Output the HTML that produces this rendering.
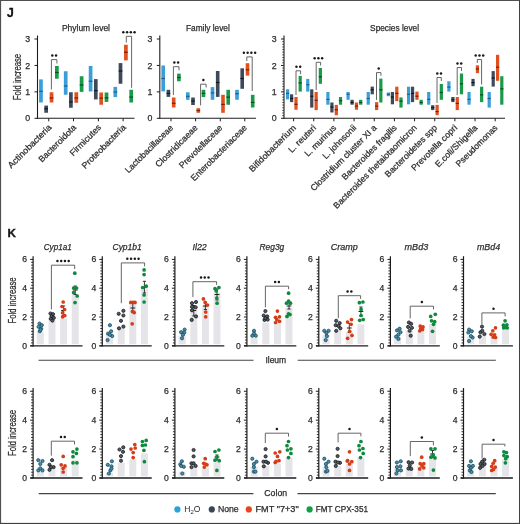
<!DOCTYPE html><html><head><meta charset="utf-8"><style>html,body{margin:0;padding:0;background:#fff;}svg{display:block;font-family:"Liberation Sans", sans-serif;will-change:transform;}</style></head><body>
<svg width="520" height="524" viewBox="0 0 520 524">
<rect x="0" y="0" width="520" height="524" fill="#fff"/>
<rect x="0" y="0" width="520" height="1" fill="#505050"/>
<rect x="0" y="0" width="1.1" height="524" fill="#505050"/>
<rect x="519" y="0" width="1" height="524" fill="#404040"/>
<rect x="0" y="522.9" width="520" height="1.1" fill="#404040"/>
<text x="7" y="17.4" font-size="12.2" text-anchor="start" font-weight="bold" font-style="normal" fill="#111" stroke="#111" stroke-width="0.35">J</text>
<text x="61.9" y="31" font-size="8.6" text-anchor="start" font-weight="normal" font-style="normal" fill="#2c2c2c" stroke="#2c2c2c" stroke-width="0.25" textLength="48.1" lengthAdjust="spacingAndGlyphs">Phylum level</text>
<text x="186" y="30.8" font-size="8.6" text-anchor="start" font-weight="normal" font-style="normal" fill="#2c2c2c" stroke="#2c2c2c" stroke-width="0.25" textLength="43.8" lengthAdjust="spacingAndGlyphs">Family level</text>
<text x="370.1" y="31.2" font-size="8.6" text-anchor="start" font-weight="normal" font-style="normal" fill="#2c2c2c" stroke="#2c2c2c" stroke-width="0.25" textLength="48.9" lengthAdjust="spacingAndGlyphs">Species level</text>
<line x1="37.5" y1="35.5" x2="37.5" y2="118.8" stroke="#1c1c1c" stroke-width="1.1"/>
<line x1="37" y1="118.3" x2="134.5" y2="118.3" stroke="#1c1c1c" stroke-width="1.1"/>
<line x1="34.5" y1="118.3" x2="37.5" y2="118.3" stroke="#1c1c1c" stroke-width="1"/>
<text x="30.2" y="121.4" font-size="8.8" text-anchor="end" font-weight="normal" font-style="normal" fill="#2c2c2c" stroke="#2c2c2c" stroke-width="0.25">0</text>
<line x1="34.5" y1="91.87" x2="37.5" y2="91.87" stroke="#1c1c1c" stroke-width="1"/>
<text x="30.2" y="94.97" font-size="8.8" text-anchor="end" font-weight="normal" font-style="normal" fill="#2c2c2c" stroke="#2c2c2c" stroke-width="0.25">1</text>
<line x1="34.5" y1="65.44" x2="37.5" y2="65.44" stroke="#1c1c1c" stroke-width="1"/>
<text x="30.2" y="68.54" font-size="8.8" text-anchor="end" font-weight="normal" font-style="normal" fill="#2c2c2c" stroke="#2c2c2c" stroke-width="0.25">2</text>
<line x1="34.5" y1="39.01" x2="37.5" y2="39.01" stroke="#1c1c1c" stroke-width="1"/>
<text x="30.2" y="42.11" font-size="8.8" text-anchor="end" font-weight="normal" font-style="normal" fill="#2c2c2c" stroke="#2c2c2c" stroke-width="0.25">3</text>
<line x1="48.75" y1="118.3" x2="48.75" y2="121.3" stroke="#1c1c1c" stroke-width="1"/>
<rect x="39.1" y="79.4" width="3.7" height="23.1" fill="#3a9fd8"/>
<rect x="39.1" y="90.65" width="3.7" height="1.2" fill="#1d5f8e"/>
<rect x="44.3" y="105.6" width="3.7" height="7.15" fill="#3e4a5c"/>
<rect x="44.3" y="108.15" width="3.7" height="1.2" fill="#121820"/>
<rect x="49.7" y="92.25" width="3.7" height="10.25" fill="#e2501f"/>
<rect x="49.7" y="97.4" width="3.7" height="1.2" fill="#7a1f05"/>
<rect x="55" y="66" width="3.7" height="12.75" fill="#199a48"/>
<rect x="55" y="71.9" width="3.7" height="1.2" fill="#0a4d22"/>
<line x1="73.5" y1="118.3" x2="73.5" y2="121.3" stroke="#1c1c1c" stroke-width="1"/>
<rect x="63.85" y="71.25" width="3.7" height="23.5" fill="#3a9fd8"/>
<rect x="63.85" y="85.4" width="3.7" height="1.2" fill="#1d5f8e"/>
<rect x="69.05" y="92.25" width="3.7" height="15.5" fill="#3e4a5c"/>
<rect x="69.05" y="101.3" width="3.7" height="1.2" fill="#121820"/>
<rect x="74.45" y="92.25" width="3.7" height="10.5" fill="#e2501f"/>
<rect x="74.45" y="97.4" width="3.7" height="1.2" fill="#7a1f05"/>
<rect x="79.75" y="76.25" width="3.7" height="15.65" fill="#199a48"/>
<rect x="79.75" y="84.4" width="3.7" height="1.2" fill="#0a4d22"/>
<line x1="98.4" y1="118.3" x2="98.4" y2="121.3" stroke="#1c1c1c" stroke-width="1"/>
<rect x="88.75" y="66" width="3.7" height="25.5" fill="#3a9fd8"/>
<rect x="88.75" y="80.65" width="3.7" height="1.2" fill="#1d5f8e"/>
<rect x="93.95" y="79.1" width="3.7" height="20.3" fill="#3e4a5c"/>
<rect x="93.95" y="90" width="3.7" height="1.2" fill="#121820"/>
<rect x="99.35" y="92.5" width="3.7" height="12.25" fill="#e2501f"/>
<rect x="99.35" y="97.5" width="3.7" height="1.2" fill="#7a1f05"/>
<rect x="104.65" y="92.5" width="3.7" height="9.4" fill="#199a48"/>
<rect x="104.65" y="97.3" width="3.7" height="1.2" fill="#0a4d22"/>
<line x1="123.1" y1="118.3" x2="123.1" y2="121.3" stroke="#1c1c1c" stroke-width="1"/>
<rect x="113.45" y="86.9" width="3.7" height="10.2" fill="#3a9fd8"/>
<rect x="113.45" y="91.4" width="3.7" height="1.2" fill="#1d5f8e"/>
<rect x="118.65" y="63.1" width="3.7" height="20.65" fill="#3e4a5c"/>
<rect x="118.65" y="70.4" width="3.7" height="1.2" fill="#121820"/>
<rect x="124.05" y="44.75" width="3.7" height="15.65" fill="#e2501f"/>
<rect x="124.05" y="51.65" width="3.7" height="1.2" fill="#7a1f05"/>
<rect x="129.35" y="89.75" width="3.7" height="12.75" fill="#199a48"/>
<rect x="129.35" y="96.5" width="3.7" height="1.2" fill="#0a4d22"/>
<polyline points="51.4,89.5 51.4,59.6 56.9,59.6 56.9,63.5" fill="none" stroke="#555" stroke-width="0.9"/>
<circle cx="52.27" cy="55.5" r="1.25" fill="#1a1a1a"/>
<circle cx="56.02" cy="55.5" r="1.25" fill="#1a1a1a"/>
<polyline points="126.3,42.5 126.3,36.3 131.6,36.3 131.6,87.8" fill="none" stroke="#555" stroke-width="0.9"/>
<circle cx="123.32" cy="32.2" r="1.25" fill="#1a1a1a"/>
<circle cx="127.07" cy="32.2" r="1.25" fill="#1a1a1a"/>
<circle cx="130.82" cy="32.2" r="1.25" fill="#1a1a1a"/>
<circle cx="134.57" cy="32.2" r="1.25" fill="#1a1a1a"/>
<line x1="159.8" y1="35.5" x2="159.8" y2="118.8" stroke="#1c1c1c" stroke-width="1.1"/>
<line x1="159.3" y1="118.3" x2="256" y2="118.3" stroke="#1c1c1c" stroke-width="1.1"/>
<line x1="156.8" y1="118.3" x2="159.8" y2="118.3" stroke="#1c1c1c" stroke-width="1"/>
<text x="152.5" y="121.4" font-size="8.8" text-anchor="end" font-weight="normal" font-style="normal" fill="#2c2c2c" stroke="#2c2c2c" stroke-width="0.25">0</text>
<line x1="156.8" y1="91.87" x2="159.8" y2="91.87" stroke="#1c1c1c" stroke-width="1"/>
<text x="152.5" y="94.97" font-size="8.8" text-anchor="end" font-weight="normal" font-style="normal" fill="#2c2c2c" stroke="#2c2c2c" stroke-width="0.25">1</text>
<line x1="156.8" y1="65.44" x2="159.8" y2="65.44" stroke="#1c1c1c" stroke-width="1"/>
<text x="152.5" y="68.54" font-size="8.8" text-anchor="end" font-weight="normal" font-style="normal" fill="#2c2c2c" stroke="#2c2c2c" stroke-width="0.25">2</text>
<line x1="156.8" y1="39.01" x2="159.8" y2="39.01" stroke="#1c1c1c" stroke-width="1"/>
<text x="152.5" y="42.11" font-size="8.8" text-anchor="end" font-weight="normal" font-style="normal" fill="#2c2c2c" stroke="#2c2c2c" stroke-width="0.25">3</text>
<line x1="171" y1="118.3" x2="171" y2="121.3" stroke="#1c1c1c" stroke-width="1"/>
<rect x="161.4" y="65.5" width="3.6" height="25.9" fill="#3a9fd8"/>
<rect x="161.4" y="77.9" width="3.6" height="1.2" fill="#1d5f8e"/>
<rect x="166.6" y="89.8" width="3.6" height="7.1" fill="#3e4a5c"/>
<rect x="166.6" y="92.8" width="3.6" height="1.2" fill="#121820"/>
<rect x="171.9" y="97.5" width="3.6" height="10" fill="#e2501f"/>
<rect x="171.9" y="102.7" width="3.6" height="1.2" fill="#7a1f05"/>
<rect x="177.1" y="73.6" width="3.6" height="7.7" fill="#199a48"/>
<rect x="177.1" y="76.9" width="3.6" height="1.2" fill="#0a4d22"/>
<line x1="195.6" y1="118.3" x2="195.6" y2="121.3" stroke="#1c1c1c" stroke-width="1"/>
<rect x="186" y="92.3" width="3.6" height="7.5" fill="#3a9fd8"/>
<rect x="186" y="95.7" width="3.6" height="1.2" fill="#1d5f8e"/>
<rect x="191.2" y="97.5" width="3.6" height="7.5" fill="#3e4a5c"/>
<rect x="191.2" y="100.4" width="3.6" height="1.2" fill="#121820"/>
<rect x="196.5" y="108.2" width="3.6" height="4.6" fill="#e2501f"/>
<rect x="196.5" y="109.9" width="3.6" height="1.2" fill="#7a1f05"/>
<rect x="201.7" y="89.8" width="3.6" height="7.3" fill="#199a48"/>
<rect x="201.7" y="92.8" width="3.6" height="1.2" fill="#0a4d22"/>
<line x1="220.3" y1="118.3" x2="220.3" y2="121.3" stroke="#1c1c1c" stroke-width="1"/>
<rect x="210.7" y="87.1" width="3.6" height="12.7" fill="#3a9fd8"/>
<rect x="210.7" y="92.3" width="3.6" height="1.2" fill="#1d5f8e"/>
<rect x="215.9" y="71" width="3.6" height="25.9" fill="#3e4a5c"/>
<rect x="215.9" y="81.9" width="3.6" height="1.2" fill="#121820"/>
<rect x="221.2" y="94.8" width="3.6" height="18" fill="#e2501f"/>
<rect x="221.2" y="103.8" width="3.6" height="1.2" fill="#7a1f05"/>
<rect x="226.4" y="89.8" width="3.6" height="14.95" fill="#199a48"/>
<rect x="226.4" y="96.5" width="3.6" height="1.2" fill="#0a4d22"/>
<line x1="244.8" y1="118.3" x2="244.8" y2="121.3" stroke="#1c1c1c" stroke-width="1"/>
<rect x="235.2" y="89.8" width="3.6" height="10" fill="#3a9fd8"/>
<rect x="235.2" y="93.1" width="3.6" height="1.2" fill="#1d5f8e"/>
<rect x="240.4" y="68.3" width="3.6" height="20.5" fill="#3e4a5c"/>
<rect x="240.4" y="77.9" width="3.6" height="1.2" fill="#121820"/>
<rect x="245.7" y="63.2" width="3.6" height="12.4" fill="#e2501f"/>
<rect x="245.7" y="69.2" width="3.6" height="1.2" fill="#7a1f05"/>
<rect x="250.9" y="94.8" width="3.6" height="12.7" fill="#199a48"/>
<rect x="250.9" y="101.8" width="3.6" height="1.2" fill="#0a4d22"/>
<polyline points="173.4,95 173.4,66.7 179,66.7 179,70.3" fill="none" stroke="#555" stroke-width="0.9"/>
<circle cx="174.32" cy="62.6" r="1.25" fill="#1a1a1a"/>
<circle cx="178.07" cy="62.6" r="1.25" fill="#1a1a1a"/>
<polyline points="200.6,105.4 200.6,84.2 206.1,84.2 206.1,87.5" fill="none" stroke="#555" stroke-width="0.9"/>
<circle cx="203.35" cy="80.1" r="1.25" fill="#1a1a1a"/>
<polyline points="246.8,61 246.8,56.9 252.2,56.9 252.2,91" fill="none" stroke="#555" stroke-width="0.9"/>
<circle cx="243.88" cy="52.8" r="1.25" fill="#1a1a1a"/>
<circle cx="247.62" cy="52.8" r="1.25" fill="#1a1a1a"/>
<circle cx="251.38" cy="52.8" r="1.25" fill="#1a1a1a"/>
<circle cx="255.12" cy="52.8" r="1.25" fill="#1a1a1a"/>
<line x1="284" y1="35.5" x2="284" y2="118.8" stroke="#1c1c1c" stroke-width="1.1"/>
<line x1="283.5" y1="118.3" x2="505" y2="118.3" stroke="#1c1c1c" stroke-width="1.1"/>
<line x1="281" y1="118.3" x2="284" y2="118.3" stroke="#1c1c1c" stroke-width="1"/>
<text x="276.7" y="121.4" font-size="8.8" text-anchor="end" font-weight="normal" font-style="normal" fill="#2c2c2c" stroke="#2c2c2c" stroke-width="0.25">0</text>
<line x1="281" y1="91.87" x2="284" y2="91.87" stroke="#1c1c1c" stroke-width="1"/>
<text x="276.7" y="94.97" font-size="8.8" text-anchor="end" font-weight="normal" font-style="normal" fill="#2c2c2c" stroke="#2c2c2c" stroke-width="0.25">1</text>
<line x1="281" y1="65.44" x2="284" y2="65.44" stroke="#1c1c1c" stroke-width="1"/>
<text x="276.7" y="68.54" font-size="8.8" text-anchor="end" font-weight="normal" font-style="normal" fill="#2c2c2c" stroke="#2c2c2c" stroke-width="0.25">2</text>
<line x1="281" y1="39.01" x2="284" y2="39.01" stroke="#1c1c1c" stroke-width="1"/>
<text x="276.7" y="42.11" font-size="8.8" text-anchor="end" font-weight="normal" font-style="normal" fill="#2c2c2c" stroke="#2c2c2c" stroke-width="0.25">3</text>
<line x1="282.2" y1="115.66" x2="284" y2="115.66" stroke="#1c1c1c" stroke-width="0.7"/>
<line x1="282.2" y1="113.01" x2="284" y2="113.01" stroke="#1c1c1c" stroke-width="0.7"/>
<line x1="282.2" y1="110.37" x2="284" y2="110.37" stroke="#1c1c1c" stroke-width="0.7"/>
<line x1="282.2" y1="107.73" x2="284" y2="107.73" stroke="#1c1c1c" stroke-width="0.7"/>
<line x1="282.2" y1="105.08" x2="284" y2="105.08" stroke="#1c1c1c" stroke-width="0.7"/>
<line x1="282.2" y1="102.44" x2="284" y2="102.44" stroke="#1c1c1c" stroke-width="0.7"/>
<line x1="282.2" y1="99.8" x2="284" y2="99.8" stroke="#1c1c1c" stroke-width="0.7"/>
<line x1="282.2" y1="97.16" x2="284" y2="97.16" stroke="#1c1c1c" stroke-width="0.7"/>
<line x1="282.2" y1="94.51" x2="284" y2="94.51" stroke="#1c1c1c" stroke-width="0.7"/>
<line x1="282.2" y1="89.23" x2="284" y2="89.23" stroke="#1c1c1c" stroke-width="0.7"/>
<line x1="282.2" y1="86.58" x2="284" y2="86.58" stroke="#1c1c1c" stroke-width="0.7"/>
<line x1="282.2" y1="83.94" x2="284" y2="83.94" stroke="#1c1c1c" stroke-width="0.7"/>
<line x1="282.2" y1="81.3" x2="284" y2="81.3" stroke="#1c1c1c" stroke-width="0.7"/>
<line x1="282.2" y1="78.66" x2="284" y2="78.66" stroke="#1c1c1c" stroke-width="0.7"/>
<line x1="282.2" y1="76.01" x2="284" y2="76.01" stroke="#1c1c1c" stroke-width="0.7"/>
<line x1="282.2" y1="73.37" x2="284" y2="73.37" stroke="#1c1c1c" stroke-width="0.7"/>
<line x1="282.2" y1="70.73" x2="284" y2="70.73" stroke="#1c1c1c" stroke-width="0.7"/>
<line x1="282.2" y1="68.08" x2="284" y2="68.08" stroke="#1c1c1c" stroke-width="0.7"/>
<line x1="282.2" y1="62.8" x2="284" y2="62.8" stroke="#1c1c1c" stroke-width="0.7"/>
<line x1="282.2" y1="60.15" x2="284" y2="60.15" stroke="#1c1c1c" stroke-width="0.7"/>
<line x1="282.2" y1="57.51" x2="284" y2="57.51" stroke="#1c1c1c" stroke-width="0.7"/>
<line x1="282.2" y1="54.87" x2="284" y2="54.87" stroke="#1c1c1c" stroke-width="0.7"/>
<line x1="282.2" y1="52.22" x2="284" y2="52.22" stroke="#1c1c1c" stroke-width="0.7"/>
<line x1="282.2" y1="49.58" x2="284" y2="49.58" stroke="#1c1c1c" stroke-width="0.7"/>
<line x1="282.2" y1="46.94" x2="284" y2="46.94" stroke="#1c1c1c" stroke-width="0.7"/>
<line x1="282.2" y1="44.3" x2="284" y2="44.3" stroke="#1c1c1c" stroke-width="0.7"/>
<line x1="282.2" y1="41.65" x2="284" y2="41.65" stroke="#1c1c1c" stroke-width="0.7"/>
<line x1="293.6" y1="118.3" x2="293.6" y2="121.3" stroke="#1c1c1c" stroke-width="1"/>
<rect x="286" y="89.3" width="3.2" height="10.1" fill="#3a9fd8"/>
<rect x="286" y="92.8" width="3.2" height="1.2" fill="#1d5f8e"/>
<rect x="290" y="94.3" width="3.2" height="7.8" fill="#3e4a5c"/>
<rect x="290" y="97.9" width="3.2" height="1.2" fill="#121820"/>
<rect x="294.4" y="97" width="3.2" height="12.75" fill="#e2501f"/>
<rect x="294.4" y="103.7" width="3.2" height="1.2" fill="#7a1f05"/>
<rect x="298.6" y="75.9" width="3.2" height="15.7" fill="#199a48"/>
<rect x="298.6" y="82.3" width="3.2" height="1.2" fill="#0a4d22"/>
<line x1="313.76" y1="118.3" x2="313.76" y2="121.3" stroke="#1c1c1c" stroke-width="1"/>
<rect x="306.16" y="78.9" width="3.2" height="12.7" fill="#3a9fd8"/>
<rect x="306.16" y="84.1" width="3.2" height="1.2" fill="#1d5f8e"/>
<rect x="310.16" y="89.3" width="3.2" height="18.3" fill="#3e4a5c"/>
<rect x="310.16" y="95.6" width="3.2" height="1.2" fill="#121820"/>
<rect x="314.56" y="92" width="3.2" height="18.1" fill="#e2501f"/>
<rect x="314.56" y="99.7" width="3.2" height="1.2" fill="#7a1f05"/>
<rect x="318.76" y="68" width="3.2" height="15.8" fill="#199a48"/>
<rect x="318.76" y="76.2" width="3.2" height="1.2" fill="#0a4d22"/>
<line x1="333.92" y1="118.3" x2="333.92" y2="121.3" stroke="#1c1c1c" stroke-width="1"/>
<rect x="326.32" y="92" width="3.2" height="12.7" fill="#3a9fd8"/>
<rect x="326.32" y="98.8" width="3.2" height="1.2" fill="#1d5f8e"/>
<rect x="330.32" y="102.5" width="3.2" height="10" fill="#3e4a5c"/>
<rect x="330.32" y="106.4" width="3.2" height="1.2" fill="#121820"/>
<rect x="334.72" y="104.9" width="3.2" height="10.3" fill="#e2501f"/>
<rect x="334.72" y="109.15" width="3.2" height="1.2" fill="#7a1f05"/>
<rect x="338.92" y="97" width="3.2" height="7.7" fill="#199a48"/>
<rect x="338.92" y="100.1" width="3.2" height="1.2" fill="#0a4d22"/>
<line x1="354.08" y1="118.3" x2="354.08" y2="121.3" stroke="#1c1c1c" stroke-width="1"/>
<rect x="346.48" y="92" width="3.2" height="7.8" fill="#3a9fd8"/>
<rect x="346.48" y="93.7" width="3.2" height="1.2" fill="#1d5f8e"/>
<rect x="350.48" y="99.8" width="3.2" height="4.9" fill="#3e4a5c"/>
<rect x="350.48" y="101.9" width="3.2" height="1.2" fill="#121820"/>
<rect x="354.88" y="102.5" width="3.2" height="7.25" fill="#e2501f"/>
<rect x="354.88" y="105.5" width="3.2" height="1.2" fill="#7a1f05"/>
<rect x="359.08" y="99.8" width="3.2" height="4.9" fill="#199a48"/>
<rect x="359.08" y="101.9" width="3.2" height="1.2" fill="#0a4d22"/>
<line x1="374.24" y1="118.3" x2="374.24" y2="121.3" stroke="#1c1c1c" stroke-width="1"/>
<rect x="366.64" y="92" width="3.2" height="12.7" fill="#3a9fd8"/>
<rect x="366.64" y="97.9" width="3.2" height="1.2" fill="#1d5f8e"/>
<rect x="370.64" y="86.6" width="3.2" height="7.7" fill="#3e4a5c"/>
<rect x="370.64" y="89.2" width="3.2" height="1.2" fill="#121820"/>
<rect x="375.04" y="102.1" width="3.2" height="8" fill="#e2501f"/>
<rect x="375.04" y="105.5" width="3.2" height="1.2" fill="#7a1f05"/>
<rect x="379.24" y="78.6" width="3.2" height="23.9" fill="#199a48"/>
<rect x="379.24" y="89.2" width="3.2" height="1.2" fill="#0a4d22"/>
<line x1="394.4" y1="118.3" x2="394.4" y2="121.3" stroke="#1c1c1c" stroke-width="1"/>
<rect x="386.8" y="92.5" width="3.2" height="3.7" fill="#3a9fd8"/>
<rect x="386.8" y="93.7" width="3.2" height="1.2" fill="#1d5f8e"/>
<rect x="390.8" y="92" width="3.2" height="12.3" fill="#3e4a5c"/>
<rect x="390.8" y="96.4" width="3.2" height="1.2" fill="#121820"/>
<rect x="395.2" y="86.7" width="3.2" height="14.5" fill="#e2501f"/>
<rect x="395.2" y="92.8" width="3.2" height="1.2" fill="#7a1f05"/>
<rect x="399.4" y="97.4" width="3.2" height="10.2" fill="#199a48"/>
<rect x="399.4" y="100.6" width="3.2" height="1.2" fill="#0a4d22"/>
<line x1="414.56" y1="118.3" x2="414.56" y2="121.3" stroke="#1c1c1c" stroke-width="1"/>
<rect x="406.96" y="86.7" width="3.2" height="17.6" fill="#3a9fd8"/>
<rect x="406.96" y="93.7" width="3.2" height="1.2" fill="#1d5f8e"/>
<rect x="410.96" y="86.7" width="3.2" height="15.4" fill="#3e4a5c"/>
<rect x="410.96" y="92.8" width="3.2" height="1.2" fill="#121820"/>
<rect x="415.36" y="91.6" width="3.2" height="8.2" fill="#e2501f"/>
<rect x="415.36" y="95.6" width="3.2" height="1.2" fill="#7a1f05"/>
<rect x="419.56" y="99.8" width="3.2" height="4.9" fill="#199a48"/>
<rect x="419.56" y="101.9" width="3.2" height="1.2" fill="#0a4d22"/>
<line x1="434.72" y1="118.3" x2="434.72" y2="121.3" stroke="#1c1c1c" stroke-width="1"/>
<rect x="427.12" y="92" width="3.2" height="12.7" fill="#3a9fd8"/>
<rect x="427.12" y="98.8" width="3.2" height="1.2" fill="#1d5f8e"/>
<rect x="431.12" y="105.2" width="3.2" height="4.9" fill="#3e4a5c"/>
<rect x="431.12" y="107" width="3.2" height="1.2" fill="#121820"/>
<rect x="435.52" y="104.9" width="3.2" height="10.3" fill="#e2501f"/>
<rect x="435.52" y="111" width="3.2" height="1.2" fill="#7a1f05"/>
<rect x="439.72" y="84" width="3.2" height="15.8" fill="#199a48"/>
<rect x="439.72" y="91.9" width="3.2" height="1.2" fill="#0a4d22"/>
<line x1="454.88" y1="118.3" x2="454.88" y2="121.3" stroke="#1c1c1c" stroke-width="1"/>
<rect x="447.28" y="81.3" width="3.2" height="10.3" fill="#3a9fd8"/>
<rect x="447.28" y="86.5" width="3.2" height="1.2" fill="#1d5f8e"/>
<rect x="451.28" y="97" width="3.2" height="5.1" fill="#3e4a5c"/>
<rect x="451.28" y="99.2" width="3.2" height="1.2" fill="#121820"/>
<rect x="455.68" y="97" width="3.2" height="13.1" fill="#e2501f"/>
<rect x="455.68" y="102.8" width="3.2" height="1.2" fill="#7a1f05"/>
<rect x="459.88" y="73.5" width="3.2" height="20.8" fill="#199a48"/>
<rect x="459.88" y="83.2" width="3.2" height="1.2" fill="#0a4d22"/>
<line x1="475.04" y1="118.3" x2="475.04" y2="121.3" stroke="#1c1c1c" stroke-width="1"/>
<rect x="467.44" y="92" width="3.2" height="12.7" fill="#3a9fd8"/>
<rect x="467.44" y="98.8" width="3.2" height="1.2" fill="#1d5f8e"/>
<rect x="471.44" y="78.9" width="3.2" height="7.3" fill="#3e4a5c"/>
<rect x="471.44" y="82" width="3.2" height="1.2" fill="#121820"/>
<rect x="475.84" y="65.3" width="3.2" height="7.8" fill="#e2501f"/>
<rect x="475.84" y="68.4" width="3.2" height="1.2" fill="#7a1f05"/>
<rect x="480.04" y="86.7" width="3.2" height="15.4" fill="#199a48"/>
<rect x="480.04" y="94.3" width="3.2" height="1.2" fill="#0a4d22"/>
<line x1="495.2" y1="118.3" x2="495.2" y2="121.3" stroke="#1c1c1c" stroke-width="1"/>
<rect x="487.6" y="92" width="3.2" height="15.6" fill="#3a9fd8"/>
<rect x="487.6" y="97.9" width="3.2" height="1.2" fill="#1d5f8e"/>
<rect x="491.6" y="71.1" width="3.2" height="15.5" fill="#3e4a5c"/>
<rect x="491.6" y="77.4" width="3.2" height="1.2" fill="#121820"/>
<rect x="496" y="54.8" width="3.2" height="26" fill="#e2501f"/>
<rect x="496" y="66.6" width="3.2" height="1.2" fill="#7a1f05"/>
<rect x="500.2" y="76.2" width="3.2" height="28.5" fill="#199a48"/>
<rect x="500.2" y="88.3" width="3.2" height="1.2" fill="#0a4d22"/>
<polyline points="296,95 296,70.8 300.6,70.8 300.6,74.2" fill="none" stroke="#555" stroke-width="0.9"/>
<circle cx="296.43" cy="66.7" r="1.25" fill="#1a1a1a"/>
<circle cx="300.18" cy="66.7" r="1.25" fill="#1a1a1a"/>
<polyline points="316.2,90 316.2,62.3 320.6,62.3 320.6,65.5" fill="none" stroke="#555" stroke-width="0.9"/>
<circle cx="314.65" cy="58.2" r="1.25" fill="#1a1a1a"/>
<circle cx="318.4" cy="58.2" r="1.25" fill="#1a1a1a"/>
<circle cx="322.15" cy="58.2" r="1.25" fill="#1a1a1a"/>
<polyline points="376.5,100 376.5,72.6 380.9,72.6 380.9,75.8" fill="none" stroke="#555" stroke-width="0.9"/>
<circle cx="378.7" cy="68.5" r="1.25" fill="#1a1a1a"/>
<polyline points="437,103 437,77.5 441.3,77.5 441.3,81" fill="none" stroke="#555" stroke-width="0.9"/>
<circle cx="437.27" cy="73.4" r="1.25" fill="#1a1a1a"/>
<circle cx="441.02" cy="73.4" r="1.25" fill="#1a1a1a"/>
<polyline points="457.2,95 457.2,67.5 461.5,67.5 461.5,71" fill="none" stroke="#555" stroke-width="0.9"/>
<circle cx="457.48" cy="63.4" r="1.25" fill="#1a1a1a"/>
<circle cx="461.23" cy="63.4" r="1.25" fill="#1a1a1a"/>
<polyline points="477.3,63 477.3,59.5 481.6,59.5 481.6,84.5" fill="none" stroke="#555" stroke-width="0.9"/>
<circle cx="475.7" cy="55.4" r="1.25" fill="#1a1a1a"/>
<circle cx="479.45" cy="55.4" r="1.25" fill="#1a1a1a"/>
<circle cx="483.2" cy="55.4" r="1.25" fill="#1a1a1a"/>
<text x="0" y="0" font-size="8.7" text-anchor="end" fill="#2c2c2c" stroke="#2c2c2c" stroke-width="0.25" transform="translate(52.05 128) rotate(-45)" textLength="57.6" lengthAdjust="spacingAndGlyphs">Actinobacteria</text>
<text x="0" y="0" font-size="8.7" text-anchor="end" fill="#2c2c2c" stroke="#2c2c2c" stroke-width="0.25" transform="translate(76.8 128) rotate(-45)" textLength="49.3" lengthAdjust="spacingAndGlyphs">Bacteroidota</text>
<text x="0" y="0" font-size="8.7" text-anchor="end" fill="#2c2c2c" stroke="#2c2c2c" stroke-width="0.25" transform="translate(101.7 128) rotate(-45)" textLength="40.3" lengthAdjust="spacingAndGlyphs">Firmicutes</text>
<text x="0" y="0" font-size="8.7" text-anchor="end" fill="#2c2c2c" stroke="#2c2c2c" stroke-width="0.25" transform="translate(126.4 128) rotate(-45)" textLength="58.2" lengthAdjust="spacingAndGlyphs">Proteobacteria</text>
<text x="0" y="0" font-size="8.7" text-anchor="end" fill="#2c2c2c" stroke="#2c2c2c" stroke-width="0.25" transform="translate(173.7 128.4) rotate(-45)" textLength="63.8" lengthAdjust="spacingAndGlyphs">Lactobacillaceae</text>
<text x="0" y="0" font-size="8.7" text-anchor="end" fill="#2c2c2c" stroke="#2c2c2c" stroke-width="0.25" transform="translate(198.3 128.4) rotate(-45)" textLength="55.8" lengthAdjust="spacingAndGlyphs">Clostridicaeae</text>
<text x="0" y="0" font-size="8.7" text-anchor="end" fill="#2c2c2c" stroke="#2c2c2c" stroke-width="0.25" transform="translate(223 128.4) rotate(-45)" textLength="57.2" lengthAdjust="spacingAndGlyphs">Prevotellaceae</text>
<text x="0" y="0" font-size="8.7" text-anchor="end" fill="#2c2c2c" stroke="#2c2c2c" stroke-width="0.25" transform="translate(247.5 128.4) rotate(-45)" textLength="75.2" lengthAdjust="spacingAndGlyphs">Enterobacteriaceae</text>
<text x="0" y="0" font-size="8.7" text-anchor="end" fill="#2c2c2c" stroke="#2c2c2c" stroke-width="0.25" transform="translate(296.5 128.4) rotate(-45)" textLength="62.3" lengthAdjust="spacingAndGlyphs">Bifidobacterium</text>
<text x="0" y="0" font-size="8.7" text-anchor="end" fill="#2c2c2c" stroke="#2c2c2c" stroke-width="0.25" transform="translate(316.66 128.4) rotate(-45)" textLength="35.1" lengthAdjust="spacingAndGlyphs">L. reuteri</text>
<text x="0" y="0" font-size="8.7" text-anchor="end" fill="#2c2c2c" stroke="#2c2c2c" stroke-width="0.25" transform="translate(336.82 128.4) rotate(-45)" textLength="40.6" lengthAdjust="spacingAndGlyphs">L. murinus</text>
<text x="0" y="0" font-size="8.7" text-anchor="end" fill="#2c2c2c" stroke="#2c2c2c" stroke-width="0.25" transform="translate(356.98 128.4) rotate(-45)" textLength="43.9" lengthAdjust="spacingAndGlyphs">L. johnsonii</text>
<text x="0" y="0" font-size="8.7" text-anchor="end" fill="#2c2c2c" stroke="#2c2c2c" stroke-width="0.25" transform="translate(377.14 128.4) rotate(-45)" textLength="89.2" lengthAdjust="spacingAndGlyphs">Clostridium cluster XI a</text>
<text x="0" y="0" font-size="8.7" text-anchor="end" fill="#2c2c2c" stroke="#2c2c2c" stroke-width="0.25" transform="translate(397.3 128.4) rotate(-45)" textLength="73.6" lengthAdjust="spacingAndGlyphs">Bacteroides fragilis</text>
<text x="0" y="0" font-size="8.7" text-anchor="end" fill="#2c2c2c" stroke="#2c2c2c" stroke-width="0.25" transform="translate(417.46 128.4) rotate(-45)" textLength="114.2" lengthAdjust="spacingAndGlyphs">Bacteroides thetaiotaomicron</text>
<text x="0" y="0" font-size="8.7" text-anchor="end" fill="#2c2c2c" stroke="#2c2c2c" stroke-width="0.25" transform="translate(437.62 128.4) rotate(-45)" textLength="69.7" lengthAdjust="spacingAndGlyphs">Bacteroidetes spp</text>
<text x="0" y="0" font-size="8.7" text-anchor="end" fill="#2c2c2c" stroke="#2c2c2c" stroke-width="0.25" transform="translate(457.78 128.4) rotate(-45)" textLength="60.7" lengthAdjust="spacingAndGlyphs">Prevotella copri</text>
<text x="0" y="0" font-size="8.7" text-anchor="end" fill="#2c2c2c" stroke="#2c2c2c" stroke-width="0.25" transform="translate(477.94 128.4) rotate(-45)" textLength="55.8" lengthAdjust="spacingAndGlyphs">E.coli/Shigella</text>
<text x="0" y="0" font-size="8.7" text-anchor="end" fill="#2c2c2c" stroke="#2c2c2c" stroke-width="0.25" transform="translate(498.1 128.4) rotate(-45)" textLength="55" lengthAdjust="spacingAndGlyphs">Pseudomonas</text>
<text x="0" y="0" font-size="10" text-anchor="middle" fill="#2c2c2c" stroke="#2c2c2c" stroke-width="0.25" transform="translate(20.8 77) rotate(-90)" textLength="46.3" lengthAdjust="spacingAndGlyphs">Fold increase</text>
<text x="7.6" y="236.8" font-size="11.6" text-anchor="start" font-weight="bold" font-style="normal" fill="#111" stroke="#111" stroke-width="0.35">K</text>
<text x="43.75" y="250" font-size="9" text-anchor="start" font-weight="normal" font-style="italic" fill="#2c2c2c" stroke="#2c2c2c" stroke-width="0.25" textLength="28" lengthAdjust="spacingAndGlyphs">Cyp1a1</text>
<text x="112.5" y="250" font-size="9" text-anchor="start" font-weight="normal" font-style="italic" fill="#2c2c2c" stroke="#2c2c2c" stroke-width="0.25" textLength="29.25" lengthAdjust="spacingAndGlyphs">Cyp1b1</text>
<text x="192.5" y="250" font-size="9" text-anchor="start" font-weight="normal" font-style="italic" fill="#2c2c2c" stroke="#2c2c2c" stroke-width="0.25" textLength="14.25" lengthAdjust="spacingAndGlyphs">Il22</text>
<text x="259.5" y="250" font-size="9" text-anchor="start" font-weight="normal" font-style="italic" fill="#2c2c2c" stroke="#2c2c2c" stroke-width="0.25" textLength="24.75" lengthAdjust="spacingAndGlyphs">Reg3g</text>
<text x="330.8" y="250" font-size="9" text-anchor="start" font-weight="normal" font-style="italic" fill="#2c2c2c" stroke="#2c2c2c" stroke-width="0.25" textLength="27" lengthAdjust="spacingAndGlyphs">Cramp</text>
<text x="404.6" y="250" font-size="9" text-anchor="start" font-weight="normal" font-style="italic" fill="#2c2c2c" stroke="#2c2c2c" stroke-width="0.25" textLength="23.6" lengthAdjust="spacingAndGlyphs">mBd3</text>
<text x="477" y="250" font-size="9" text-anchor="start" font-weight="normal" font-style="italic" fill="#2c2c2c" stroke="#2c2c2c" stroke-width="0.25" textLength="23.1" lengthAdjust="spacingAndGlyphs">mBd4</text>
<text x="0" y="0" font-size="10" text-anchor="middle" fill="#2c2c2c" stroke="#2c2c2c" stroke-width="0.25" transform="translate(16.4 300.5) rotate(-90)" textLength="46" lengthAdjust="spacingAndGlyphs">Fold increase</text>
<text x="0" y="0" font-size="10" text-anchor="middle" fill="#2c2c2c" stroke="#2c2c2c" stroke-width="0.25" transform="translate(16.4 433) rotate(-90)" textLength="46" lengthAdjust="spacingAndGlyphs">Fold increase</text>
<line x1="33.1" y1="256.2" x2="33.1" y2="346.4" stroke="#1c1c1c" stroke-width="1.2"/>
<line x1="30.3" y1="345.8" x2="82.5" y2="345.8" stroke="#1c1c1c" stroke-width="1.3"/>
<line x1="30.1" y1="345.8" x2="33.1" y2="345.8" stroke="#1c1c1c" stroke-width="1"/>
<text x="27.1" y="348.8" font-size="8.6" text-anchor="end" font-weight="normal" font-style="normal" fill="#2c2c2c" stroke="#2c2c2c" stroke-width="0.25">0</text>
<line x1="31.1" y1="342.92" x2="33.1" y2="342.92" stroke="#1c1c1c" stroke-width="0.9"/>
<line x1="31.1" y1="340.04" x2="33.1" y2="340.04" stroke="#1c1c1c" stroke-width="0.9"/>
<line x1="31.1" y1="337.16" x2="33.1" y2="337.16" stroke="#1c1c1c" stroke-width="0.9"/>
<line x1="31.1" y1="334.28" x2="33.1" y2="334.28" stroke="#1c1c1c" stroke-width="0.9"/>
<line x1="31.1" y1="331.4" x2="33.1" y2="331.4" stroke="#1c1c1c" stroke-width="0.9"/>
<line x1="31.1" y1="328.52" x2="33.1" y2="328.52" stroke="#1c1c1c" stroke-width="0.9"/>
<line x1="31.1" y1="325.64" x2="33.1" y2="325.64" stroke="#1c1c1c" stroke-width="0.9"/>
<line x1="31.1" y1="322.76" x2="33.1" y2="322.76" stroke="#1c1c1c" stroke-width="0.9"/>
<line x1="31.1" y1="319.88" x2="33.1" y2="319.88" stroke="#1c1c1c" stroke-width="0.9"/>
<line x1="30.1" y1="317" x2="33.1" y2="317" stroke="#1c1c1c" stroke-width="1"/>
<text x="27.1" y="320" font-size="8.6" text-anchor="end" font-weight="normal" font-style="normal" fill="#2c2c2c" stroke="#2c2c2c" stroke-width="0.25">2</text>
<line x1="31.1" y1="314.12" x2="33.1" y2="314.12" stroke="#1c1c1c" stroke-width="0.9"/>
<line x1="31.1" y1="311.24" x2="33.1" y2="311.24" stroke="#1c1c1c" stroke-width="0.9"/>
<line x1="31.1" y1="308.36" x2="33.1" y2="308.36" stroke="#1c1c1c" stroke-width="0.9"/>
<line x1="31.1" y1="305.48" x2="33.1" y2="305.48" stroke="#1c1c1c" stroke-width="0.9"/>
<line x1="31.1" y1="302.6" x2="33.1" y2="302.6" stroke="#1c1c1c" stroke-width="0.9"/>
<line x1="31.1" y1="299.72" x2="33.1" y2="299.72" stroke="#1c1c1c" stroke-width="0.9"/>
<line x1="31.1" y1="296.84" x2="33.1" y2="296.84" stroke="#1c1c1c" stroke-width="0.9"/>
<line x1="31.1" y1="293.96" x2="33.1" y2="293.96" stroke="#1c1c1c" stroke-width="0.9"/>
<line x1="31.1" y1="291.08" x2="33.1" y2="291.08" stroke="#1c1c1c" stroke-width="0.9"/>
<line x1="30.1" y1="288.2" x2="33.1" y2="288.2" stroke="#1c1c1c" stroke-width="1"/>
<text x="27.1" y="291.2" font-size="8.6" text-anchor="end" font-weight="normal" font-style="normal" fill="#2c2c2c" stroke="#2c2c2c" stroke-width="0.25">4</text>
<line x1="31.1" y1="285.32" x2="33.1" y2="285.32" stroke="#1c1c1c" stroke-width="0.9"/>
<line x1="31.1" y1="282.44" x2="33.1" y2="282.44" stroke="#1c1c1c" stroke-width="0.9"/>
<line x1="31.1" y1="279.56" x2="33.1" y2="279.56" stroke="#1c1c1c" stroke-width="0.9"/>
<line x1="31.1" y1="276.68" x2="33.1" y2="276.68" stroke="#1c1c1c" stroke-width="0.9"/>
<line x1="31.1" y1="273.8" x2="33.1" y2="273.8" stroke="#1c1c1c" stroke-width="0.9"/>
<line x1="31.1" y1="270.92" x2="33.1" y2="270.92" stroke="#1c1c1c" stroke-width="0.9"/>
<line x1="31.1" y1="268.04" x2="33.1" y2="268.04" stroke="#1c1c1c" stroke-width="0.9"/>
<line x1="31.1" y1="265.16" x2="33.1" y2="265.16" stroke="#1c1c1c" stroke-width="0.9"/>
<line x1="31.1" y1="262.28" x2="33.1" y2="262.28" stroke="#1c1c1c" stroke-width="0.9"/>
<line x1="30.1" y1="259.4" x2="33.1" y2="259.4" stroke="#1c1c1c" stroke-width="1"/>
<text x="27.1" y="262.4" font-size="8.6" text-anchor="end" font-weight="normal" font-style="normal" fill="#2c2c2c" stroke="#2c2c2c" stroke-width="0.25">6</text>
<line x1="33.1" y1="388.04" x2="33.1" y2="478.6" stroke="#1c1c1c" stroke-width="1.2"/>
<line x1="30.3" y1="478" x2="82.5" y2="478" stroke="#1c1c1c" stroke-width="1.3"/>
<line x1="30.1" y1="478" x2="33.1" y2="478" stroke="#1c1c1c" stroke-width="1"/>
<text x="27.1" y="481" font-size="8.6" text-anchor="end" font-weight="normal" font-style="normal" fill="#2c2c2c" stroke="#2c2c2c" stroke-width="0.25">0</text>
<line x1="31.1" y1="475.11" x2="33.1" y2="475.11" stroke="#1c1c1c" stroke-width="0.9"/>
<line x1="31.1" y1="472.22" x2="33.1" y2="472.22" stroke="#1c1c1c" stroke-width="0.9"/>
<line x1="31.1" y1="469.32" x2="33.1" y2="469.32" stroke="#1c1c1c" stroke-width="0.9"/>
<line x1="31.1" y1="466.43" x2="33.1" y2="466.43" stroke="#1c1c1c" stroke-width="0.9"/>
<line x1="31.1" y1="463.54" x2="33.1" y2="463.54" stroke="#1c1c1c" stroke-width="0.9"/>
<line x1="31.1" y1="460.65" x2="33.1" y2="460.65" stroke="#1c1c1c" stroke-width="0.9"/>
<line x1="31.1" y1="457.76" x2="33.1" y2="457.76" stroke="#1c1c1c" stroke-width="0.9"/>
<line x1="31.1" y1="454.86" x2="33.1" y2="454.86" stroke="#1c1c1c" stroke-width="0.9"/>
<line x1="31.1" y1="451.97" x2="33.1" y2="451.97" stroke="#1c1c1c" stroke-width="0.9"/>
<line x1="30.1" y1="449.08" x2="33.1" y2="449.08" stroke="#1c1c1c" stroke-width="1"/>
<text x="27.1" y="452.08" font-size="8.6" text-anchor="end" font-weight="normal" font-style="normal" fill="#2c2c2c" stroke="#2c2c2c" stroke-width="0.25">2</text>
<line x1="31.1" y1="446.19" x2="33.1" y2="446.19" stroke="#1c1c1c" stroke-width="0.9"/>
<line x1="31.1" y1="443.3" x2="33.1" y2="443.3" stroke="#1c1c1c" stroke-width="0.9"/>
<line x1="31.1" y1="440.4" x2="33.1" y2="440.4" stroke="#1c1c1c" stroke-width="0.9"/>
<line x1="31.1" y1="437.51" x2="33.1" y2="437.51" stroke="#1c1c1c" stroke-width="0.9"/>
<line x1="31.1" y1="434.62" x2="33.1" y2="434.62" stroke="#1c1c1c" stroke-width="0.9"/>
<line x1="31.1" y1="431.73" x2="33.1" y2="431.73" stroke="#1c1c1c" stroke-width="0.9"/>
<line x1="31.1" y1="428.84" x2="33.1" y2="428.84" stroke="#1c1c1c" stroke-width="0.9"/>
<line x1="31.1" y1="425.94" x2="33.1" y2="425.94" stroke="#1c1c1c" stroke-width="0.9"/>
<line x1="31.1" y1="423.05" x2="33.1" y2="423.05" stroke="#1c1c1c" stroke-width="0.9"/>
<line x1="30.1" y1="420.16" x2="33.1" y2="420.16" stroke="#1c1c1c" stroke-width="1"/>
<text x="27.1" y="423.16" font-size="8.6" text-anchor="end" font-weight="normal" font-style="normal" fill="#2c2c2c" stroke="#2c2c2c" stroke-width="0.25">4</text>
<line x1="31.1" y1="417.27" x2="33.1" y2="417.27" stroke="#1c1c1c" stroke-width="0.9"/>
<line x1="31.1" y1="414.38" x2="33.1" y2="414.38" stroke="#1c1c1c" stroke-width="0.9"/>
<line x1="31.1" y1="411.48" x2="33.1" y2="411.48" stroke="#1c1c1c" stroke-width="0.9"/>
<line x1="31.1" y1="408.59" x2="33.1" y2="408.59" stroke="#1c1c1c" stroke-width="0.9"/>
<line x1="31.1" y1="405.7" x2="33.1" y2="405.7" stroke="#1c1c1c" stroke-width="0.9"/>
<line x1="31.1" y1="402.81" x2="33.1" y2="402.81" stroke="#1c1c1c" stroke-width="0.9"/>
<line x1="31.1" y1="399.92" x2="33.1" y2="399.92" stroke="#1c1c1c" stroke-width="0.9"/>
<line x1="31.1" y1="397.02" x2="33.1" y2="397.02" stroke="#1c1c1c" stroke-width="0.9"/>
<line x1="31.1" y1="394.13" x2="33.1" y2="394.13" stroke="#1c1c1c" stroke-width="0.9"/>
<line x1="30.1" y1="391.24" x2="33.1" y2="391.24" stroke="#1c1c1c" stroke-width="1"/>
<text x="27.1" y="394.24" font-size="8.6" text-anchor="end" font-weight="normal" font-style="normal" fill="#2c2c2c" stroke="#2c2c2c" stroke-width="0.25">6</text>
<line x1="102.3" y1="256.2" x2="102.3" y2="346.4" stroke="#1c1c1c" stroke-width="1.2"/>
<line x1="99.5" y1="345.8" x2="151.7" y2="345.8" stroke="#1c1c1c" stroke-width="1.3"/>
<line x1="99.3" y1="345.8" x2="102.3" y2="345.8" stroke="#1c1c1c" stroke-width="1"/>
<text x="96.3" y="348.8" font-size="8.6" text-anchor="end" font-weight="normal" font-style="normal" fill="#2c2c2c" stroke="#2c2c2c" stroke-width="0.25">0</text>
<line x1="100.3" y1="342.92" x2="102.3" y2="342.92" stroke="#1c1c1c" stroke-width="0.9"/>
<line x1="100.3" y1="340.04" x2="102.3" y2="340.04" stroke="#1c1c1c" stroke-width="0.9"/>
<line x1="100.3" y1="337.16" x2="102.3" y2="337.16" stroke="#1c1c1c" stroke-width="0.9"/>
<line x1="100.3" y1="334.28" x2="102.3" y2="334.28" stroke="#1c1c1c" stroke-width="0.9"/>
<line x1="100.3" y1="331.4" x2="102.3" y2="331.4" stroke="#1c1c1c" stroke-width="0.9"/>
<line x1="100.3" y1="328.52" x2="102.3" y2="328.52" stroke="#1c1c1c" stroke-width="0.9"/>
<line x1="100.3" y1="325.64" x2="102.3" y2="325.64" stroke="#1c1c1c" stroke-width="0.9"/>
<line x1="100.3" y1="322.76" x2="102.3" y2="322.76" stroke="#1c1c1c" stroke-width="0.9"/>
<line x1="100.3" y1="319.88" x2="102.3" y2="319.88" stroke="#1c1c1c" stroke-width="0.9"/>
<line x1="99.3" y1="317" x2="102.3" y2="317" stroke="#1c1c1c" stroke-width="1"/>
<text x="96.3" y="320" font-size="8.6" text-anchor="end" font-weight="normal" font-style="normal" fill="#2c2c2c" stroke="#2c2c2c" stroke-width="0.25">2</text>
<line x1="100.3" y1="314.12" x2="102.3" y2="314.12" stroke="#1c1c1c" stroke-width="0.9"/>
<line x1="100.3" y1="311.24" x2="102.3" y2="311.24" stroke="#1c1c1c" stroke-width="0.9"/>
<line x1="100.3" y1="308.36" x2="102.3" y2="308.36" stroke="#1c1c1c" stroke-width="0.9"/>
<line x1="100.3" y1="305.48" x2="102.3" y2="305.48" stroke="#1c1c1c" stroke-width="0.9"/>
<line x1="100.3" y1="302.6" x2="102.3" y2="302.6" stroke="#1c1c1c" stroke-width="0.9"/>
<line x1="100.3" y1="299.72" x2="102.3" y2="299.72" stroke="#1c1c1c" stroke-width="0.9"/>
<line x1="100.3" y1="296.84" x2="102.3" y2="296.84" stroke="#1c1c1c" stroke-width="0.9"/>
<line x1="100.3" y1="293.96" x2="102.3" y2="293.96" stroke="#1c1c1c" stroke-width="0.9"/>
<line x1="100.3" y1="291.08" x2="102.3" y2="291.08" stroke="#1c1c1c" stroke-width="0.9"/>
<line x1="99.3" y1="288.2" x2="102.3" y2="288.2" stroke="#1c1c1c" stroke-width="1"/>
<text x="96.3" y="291.2" font-size="8.6" text-anchor="end" font-weight="normal" font-style="normal" fill="#2c2c2c" stroke="#2c2c2c" stroke-width="0.25">4</text>
<line x1="100.3" y1="285.32" x2="102.3" y2="285.32" stroke="#1c1c1c" stroke-width="0.9"/>
<line x1="100.3" y1="282.44" x2="102.3" y2="282.44" stroke="#1c1c1c" stroke-width="0.9"/>
<line x1="100.3" y1="279.56" x2="102.3" y2="279.56" stroke="#1c1c1c" stroke-width="0.9"/>
<line x1="100.3" y1="276.68" x2="102.3" y2="276.68" stroke="#1c1c1c" stroke-width="0.9"/>
<line x1="100.3" y1="273.8" x2="102.3" y2="273.8" stroke="#1c1c1c" stroke-width="0.9"/>
<line x1="100.3" y1="270.92" x2="102.3" y2="270.92" stroke="#1c1c1c" stroke-width="0.9"/>
<line x1="100.3" y1="268.04" x2="102.3" y2="268.04" stroke="#1c1c1c" stroke-width="0.9"/>
<line x1="100.3" y1="265.16" x2="102.3" y2="265.16" stroke="#1c1c1c" stroke-width="0.9"/>
<line x1="100.3" y1="262.28" x2="102.3" y2="262.28" stroke="#1c1c1c" stroke-width="0.9"/>
<line x1="99.3" y1="259.4" x2="102.3" y2="259.4" stroke="#1c1c1c" stroke-width="1"/>
<text x="96.3" y="262.4" font-size="8.6" text-anchor="end" font-weight="normal" font-style="normal" fill="#2c2c2c" stroke="#2c2c2c" stroke-width="0.25">6</text>
<line x1="102.3" y1="388.04" x2="102.3" y2="478.6" stroke="#1c1c1c" stroke-width="1.2"/>
<line x1="99.5" y1="478" x2="151.7" y2="478" stroke="#1c1c1c" stroke-width="1.3"/>
<line x1="99.3" y1="478" x2="102.3" y2="478" stroke="#1c1c1c" stroke-width="1"/>
<text x="96.3" y="481" font-size="8.6" text-anchor="end" font-weight="normal" font-style="normal" fill="#2c2c2c" stroke="#2c2c2c" stroke-width="0.25">0</text>
<line x1="100.3" y1="475.11" x2="102.3" y2="475.11" stroke="#1c1c1c" stroke-width="0.9"/>
<line x1="100.3" y1="472.22" x2="102.3" y2="472.22" stroke="#1c1c1c" stroke-width="0.9"/>
<line x1="100.3" y1="469.32" x2="102.3" y2="469.32" stroke="#1c1c1c" stroke-width="0.9"/>
<line x1="100.3" y1="466.43" x2="102.3" y2="466.43" stroke="#1c1c1c" stroke-width="0.9"/>
<line x1="100.3" y1="463.54" x2="102.3" y2="463.54" stroke="#1c1c1c" stroke-width="0.9"/>
<line x1="100.3" y1="460.65" x2="102.3" y2="460.65" stroke="#1c1c1c" stroke-width="0.9"/>
<line x1="100.3" y1="457.76" x2="102.3" y2="457.76" stroke="#1c1c1c" stroke-width="0.9"/>
<line x1="100.3" y1="454.86" x2="102.3" y2="454.86" stroke="#1c1c1c" stroke-width="0.9"/>
<line x1="100.3" y1="451.97" x2="102.3" y2="451.97" stroke="#1c1c1c" stroke-width="0.9"/>
<line x1="99.3" y1="449.08" x2="102.3" y2="449.08" stroke="#1c1c1c" stroke-width="1"/>
<text x="96.3" y="452.08" font-size="8.6" text-anchor="end" font-weight="normal" font-style="normal" fill="#2c2c2c" stroke="#2c2c2c" stroke-width="0.25">2</text>
<line x1="100.3" y1="446.19" x2="102.3" y2="446.19" stroke="#1c1c1c" stroke-width="0.9"/>
<line x1="100.3" y1="443.3" x2="102.3" y2="443.3" stroke="#1c1c1c" stroke-width="0.9"/>
<line x1="100.3" y1="440.4" x2="102.3" y2="440.4" stroke="#1c1c1c" stroke-width="0.9"/>
<line x1="100.3" y1="437.51" x2="102.3" y2="437.51" stroke="#1c1c1c" stroke-width="0.9"/>
<line x1="100.3" y1="434.62" x2="102.3" y2="434.62" stroke="#1c1c1c" stroke-width="0.9"/>
<line x1="100.3" y1="431.73" x2="102.3" y2="431.73" stroke="#1c1c1c" stroke-width="0.9"/>
<line x1="100.3" y1="428.84" x2="102.3" y2="428.84" stroke="#1c1c1c" stroke-width="0.9"/>
<line x1="100.3" y1="425.94" x2="102.3" y2="425.94" stroke="#1c1c1c" stroke-width="0.9"/>
<line x1="100.3" y1="423.05" x2="102.3" y2="423.05" stroke="#1c1c1c" stroke-width="0.9"/>
<line x1="99.3" y1="420.16" x2="102.3" y2="420.16" stroke="#1c1c1c" stroke-width="1"/>
<text x="96.3" y="423.16" font-size="8.6" text-anchor="end" font-weight="normal" font-style="normal" fill="#2c2c2c" stroke="#2c2c2c" stroke-width="0.25">4</text>
<line x1="100.3" y1="417.27" x2="102.3" y2="417.27" stroke="#1c1c1c" stroke-width="0.9"/>
<line x1="100.3" y1="414.38" x2="102.3" y2="414.38" stroke="#1c1c1c" stroke-width="0.9"/>
<line x1="100.3" y1="411.48" x2="102.3" y2="411.48" stroke="#1c1c1c" stroke-width="0.9"/>
<line x1="100.3" y1="408.59" x2="102.3" y2="408.59" stroke="#1c1c1c" stroke-width="0.9"/>
<line x1="100.3" y1="405.7" x2="102.3" y2="405.7" stroke="#1c1c1c" stroke-width="0.9"/>
<line x1="100.3" y1="402.81" x2="102.3" y2="402.81" stroke="#1c1c1c" stroke-width="0.9"/>
<line x1="100.3" y1="399.92" x2="102.3" y2="399.92" stroke="#1c1c1c" stroke-width="0.9"/>
<line x1="100.3" y1="397.02" x2="102.3" y2="397.02" stroke="#1c1c1c" stroke-width="0.9"/>
<line x1="100.3" y1="394.13" x2="102.3" y2="394.13" stroke="#1c1c1c" stroke-width="0.9"/>
<line x1="99.3" y1="391.24" x2="102.3" y2="391.24" stroke="#1c1c1c" stroke-width="1"/>
<text x="96.3" y="394.24" font-size="8.6" text-anchor="end" font-weight="normal" font-style="normal" fill="#2c2c2c" stroke="#2c2c2c" stroke-width="0.25">6</text>
<line x1="174.9" y1="256.2" x2="174.9" y2="346.4" stroke="#1c1c1c" stroke-width="1.2"/>
<line x1="172.1" y1="345.8" x2="224.3" y2="345.8" stroke="#1c1c1c" stroke-width="1.3"/>
<line x1="171.9" y1="345.8" x2="174.9" y2="345.8" stroke="#1c1c1c" stroke-width="1"/>
<text x="168.9" y="348.8" font-size="8.6" text-anchor="end" font-weight="normal" font-style="normal" fill="#2c2c2c" stroke="#2c2c2c" stroke-width="0.25">0</text>
<line x1="172.9" y1="342.92" x2="174.9" y2="342.92" stroke="#1c1c1c" stroke-width="0.9"/>
<line x1="172.9" y1="340.04" x2="174.9" y2="340.04" stroke="#1c1c1c" stroke-width="0.9"/>
<line x1="172.9" y1="337.16" x2="174.9" y2="337.16" stroke="#1c1c1c" stroke-width="0.9"/>
<line x1="172.9" y1="334.28" x2="174.9" y2="334.28" stroke="#1c1c1c" stroke-width="0.9"/>
<line x1="172.9" y1="331.4" x2="174.9" y2="331.4" stroke="#1c1c1c" stroke-width="0.9"/>
<line x1="172.9" y1="328.52" x2="174.9" y2="328.52" stroke="#1c1c1c" stroke-width="0.9"/>
<line x1="172.9" y1="325.64" x2="174.9" y2="325.64" stroke="#1c1c1c" stroke-width="0.9"/>
<line x1="172.9" y1="322.76" x2="174.9" y2="322.76" stroke="#1c1c1c" stroke-width="0.9"/>
<line x1="172.9" y1="319.88" x2="174.9" y2="319.88" stroke="#1c1c1c" stroke-width="0.9"/>
<line x1="171.9" y1="317" x2="174.9" y2="317" stroke="#1c1c1c" stroke-width="1"/>
<text x="168.9" y="320" font-size="8.6" text-anchor="end" font-weight="normal" font-style="normal" fill="#2c2c2c" stroke="#2c2c2c" stroke-width="0.25">2</text>
<line x1="172.9" y1="314.12" x2="174.9" y2="314.12" stroke="#1c1c1c" stroke-width="0.9"/>
<line x1="172.9" y1="311.24" x2="174.9" y2="311.24" stroke="#1c1c1c" stroke-width="0.9"/>
<line x1="172.9" y1="308.36" x2="174.9" y2="308.36" stroke="#1c1c1c" stroke-width="0.9"/>
<line x1="172.9" y1="305.48" x2="174.9" y2="305.48" stroke="#1c1c1c" stroke-width="0.9"/>
<line x1="172.9" y1="302.6" x2="174.9" y2="302.6" stroke="#1c1c1c" stroke-width="0.9"/>
<line x1="172.9" y1="299.72" x2="174.9" y2="299.72" stroke="#1c1c1c" stroke-width="0.9"/>
<line x1="172.9" y1="296.84" x2="174.9" y2="296.84" stroke="#1c1c1c" stroke-width="0.9"/>
<line x1="172.9" y1="293.96" x2="174.9" y2="293.96" stroke="#1c1c1c" stroke-width="0.9"/>
<line x1="172.9" y1="291.08" x2="174.9" y2="291.08" stroke="#1c1c1c" stroke-width="0.9"/>
<line x1="171.9" y1="288.2" x2="174.9" y2="288.2" stroke="#1c1c1c" stroke-width="1"/>
<text x="168.9" y="291.2" font-size="8.6" text-anchor="end" font-weight="normal" font-style="normal" fill="#2c2c2c" stroke="#2c2c2c" stroke-width="0.25">4</text>
<line x1="172.9" y1="285.32" x2="174.9" y2="285.32" stroke="#1c1c1c" stroke-width="0.9"/>
<line x1="172.9" y1="282.44" x2="174.9" y2="282.44" stroke="#1c1c1c" stroke-width="0.9"/>
<line x1="172.9" y1="279.56" x2="174.9" y2="279.56" stroke="#1c1c1c" stroke-width="0.9"/>
<line x1="172.9" y1="276.68" x2="174.9" y2="276.68" stroke="#1c1c1c" stroke-width="0.9"/>
<line x1="172.9" y1="273.8" x2="174.9" y2="273.8" stroke="#1c1c1c" stroke-width="0.9"/>
<line x1="172.9" y1="270.92" x2="174.9" y2="270.92" stroke="#1c1c1c" stroke-width="0.9"/>
<line x1="172.9" y1="268.04" x2="174.9" y2="268.04" stroke="#1c1c1c" stroke-width="0.9"/>
<line x1="172.9" y1="265.16" x2="174.9" y2="265.16" stroke="#1c1c1c" stroke-width="0.9"/>
<line x1="172.9" y1="262.28" x2="174.9" y2="262.28" stroke="#1c1c1c" stroke-width="0.9"/>
<line x1="171.9" y1="259.4" x2="174.9" y2="259.4" stroke="#1c1c1c" stroke-width="1"/>
<text x="168.9" y="262.4" font-size="8.6" text-anchor="end" font-weight="normal" font-style="normal" fill="#2c2c2c" stroke="#2c2c2c" stroke-width="0.25">6</text>
<line x1="174.9" y1="388.04" x2="174.9" y2="478.6" stroke="#1c1c1c" stroke-width="1.2"/>
<line x1="172.1" y1="478" x2="224.3" y2="478" stroke="#1c1c1c" stroke-width="1.3"/>
<line x1="171.9" y1="478" x2="174.9" y2="478" stroke="#1c1c1c" stroke-width="1"/>
<text x="168.9" y="481" font-size="8.6" text-anchor="end" font-weight="normal" font-style="normal" fill="#2c2c2c" stroke="#2c2c2c" stroke-width="0.25">0</text>
<line x1="172.9" y1="475.11" x2="174.9" y2="475.11" stroke="#1c1c1c" stroke-width="0.9"/>
<line x1="172.9" y1="472.22" x2="174.9" y2="472.22" stroke="#1c1c1c" stroke-width="0.9"/>
<line x1="172.9" y1="469.32" x2="174.9" y2="469.32" stroke="#1c1c1c" stroke-width="0.9"/>
<line x1="172.9" y1="466.43" x2="174.9" y2="466.43" stroke="#1c1c1c" stroke-width="0.9"/>
<line x1="172.9" y1="463.54" x2="174.9" y2="463.54" stroke="#1c1c1c" stroke-width="0.9"/>
<line x1="172.9" y1="460.65" x2="174.9" y2="460.65" stroke="#1c1c1c" stroke-width="0.9"/>
<line x1="172.9" y1="457.76" x2="174.9" y2="457.76" stroke="#1c1c1c" stroke-width="0.9"/>
<line x1="172.9" y1="454.86" x2="174.9" y2="454.86" stroke="#1c1c1c" stroke-width="0.9"/>
<line x1="172.9" y1="451.97" x2="174.9" y2="451.97" stroke="#1c1c1c" stroke-width="0.9"/>
<line x1="171.9" y1="449.08" x2="174.9" y2="449.08" stroke="#1c1c1c" stroke-width="1"/>
<text x="168.9" y="452.08" font-size="8.6" text-anchor="end" font-weight="normal" font-style="normal" fill="#2c2c2c" stroke="#2c2c2c" stroke-width="0.25">2</text>
<line x1="172.9" y1="446.19" x2="174.9" y2="446.19" stroke="#1c1c1c" stroke-width="0.9"/>
<line x1="172.9" y1="443.3" x2="174.9" y2="443.3" stroke="#1c1c1c" stroke-width="0.9"/>
<line x1="172.9" y1="440.4" x2="174.9" y2="440.4" stroke="#1c1c1c" stroke-width="0.9"/>
<line x1="172.9" y1="437.51" x2="174.9" y2="437.51" stroke="#1c1c1c" stroke-width="0.9"/>
<line x1="172.9" y1="434.62" x2="174.9" y2="434.62" stroke="#1c1c1c" stroke-width="0.9"/>
<line x1="172.9" y1="431.73" x2="174.9" y2="431.73" stroke="#1c1c1c" stroke-width="0.9"/>
<line x1="172.9" y1="428.84" x2="174.9" y2="428.84" stroke="#1c1c1c" stroke-width="0.9"/>
<line x1="172.9" y1="425.94" x2="174.9" y2="425.94" stroke="#1c1c1c" stroke-width="0.9"/>
<line x1="172.9" y1="423.05" x2="174.9" y2="423.05" stroke="#1c1c1c" stroke-width="0.9"/>
<line x1="171.9" y1="420.16" x2="174.9" y2="420.16" stroke="#1c1c1c" stroke-width="1"/>
<text x="168.9" y="423.16" font-size="8.6" text-anchor="end" font-weight="normal" font-style="normal" fill="#2c2c2c" stroke="#2c2c2c" stroke-width="0.25">4</text>
<line x1="172.9" y1="417.27" x2="174.9" y2="417.27" stroke="#1c1c1c" stroke-width="0.9"/>
<line x1="172.9" y1="414.38" x2="174.9" y2="414.38" stroke="#1c1c1c" stroke-width="0.9"/>
<line x1="172.9" y1="411.48" x2="174.9" y2="411.48" stroke="#1c1c1c" stroke-width="0.9"/>
<line x1="172.9" y1="408.59" x2="174.9" y2="408.59" stroke="#1c1c1c" stroke-width="0.9"/>
<line x1="172.9" y1="405.7" x2="174.9" y2="405.7" stroke="#1c1c1c" stroke-width="0.9"/>
<line x1="172.9" y1="402.81" x2="174.9" y2="402.81" stroke="#1c1c1c" stroke-width="0.9"/>
<line x1="172.9" y1="399.92" x2="174.9" y2="399.92" stroke="#1c1c1c" stroke-width="0.9"/>
<line x1="172.9" y1="397.02" x2="174.9" y2="397.02" stroke="#1c1c1c" stroke-width="0.9"/>
<line x1="172.9" y1="394.13" x2="174.9" y2="394.13" stroke="#1c1c1c" stroke-width="0.9"/>
<line x1="171.9" y1="391.24" x2="174.9" y2="391.24" stroke="#1c1c1c" stroke-width="1"/>
<text x="168.9" y="394.24" font-size="8.6" text-anchor="end" font-weight="normal" font-style="normal" fill="#2c2c2c" stroke="#2c2c2c" stroke-width="0.25">6</text>
<line x1="246.9" y1="256.2" x2="246.9" y2="346.4" stroke="#1c1c1c" stroke-width="1.2"/>
<line x1="244.1" y1="345.8" x2="296.3" y2="345.8" stroke="#1c1c1c" stroke-width="1.3"/>
<line x1="243.9" y1="345.8" x2="246.9" y2="345.8" stroke="#1c1c1c" stroke-width="1"/>
<text x="240.9" y="348.8" font-size="8.6" text-anchor="end" font-weight="normal" font-style="normal" fill="#2c2c2c" stroke="#2c2c2c" stroke-width="0.25">0</text>
<line x1="244.9" y1="342.92" x2="246.9" y2="342.92" stroke="#1c1c1c" stroke-width="0.9"/>
<line x1="244.9" y1="340.04" x2="246.9" y2="340.04" stroke="#1c1c1c" stroke-width="0.9"/>
<line x1="244.9" y1="337.16" x2="246.9" y2="337.16" stroke="#1c1c1c" stroke-width="0.9"/>
<line x1="244.9" y1="334.28" x2="246.9" y2="334.28" stroke="#1c1c1c" stroke-width="0.9"/>
<line x1="244.9" y1="331.4" x2="246.9" y2="331.4" stroke="#1c1c1c" stroke-width="0.9"/>
<line x1="244.9" y1="328.52" x2="246.9" y2="328.52" stroke="#1c1c1c" stroke-width="0.9"/>
<line x1="244.9" y1="325.64" x2="246.9" y2="325.64" stroke="#1c1c1c" stroke-width="0.9"/>
<line x1="244.9" y1="322.76" x2="246.9" y2="322.76" stroke="#1c1c1c" stroke-width="0.9"/>
<line x1="244.9" y1="319.88" x2="246.9" y2="319.88" stroke="#1c1c1c" stroke-width="0.9"/>
<line x1="243.9" y1="317" x2="246.9" y2="317" stroke="#1c1c1c" stroke-width="1"/>
<text x="240.9" y="320" font-size="8.6" text-anchor="end" font-weight="normal" font-style="normal" fill="#2c2c2c" stroke="#2c2c2c" stroke-width="0.25">2</text>
<line x1="244.9" y1="314.12" x2="246.9" y2="314.12" stroke="#1c1c1c" stroke-width="0.9"/>
<line x1="244.9" y1="311.24" x2="246.9" y2="311.24" stroke="#1c1c1c" stroke-width="0.9"/>
<line x1="244.9" y1="308.36" x2="246.9" y2="308.36" stroke="#1c1c1c" stroke-width="0.9"/>
<line x1="244.9" y1="305.48" x2="246.9" y2="305.48" stroke="#1c1c1c" stroke-width="0.9"/>
<line x1="244.9" y1="302.6" x2="246.9" y2="302.6" stroke="#1c1c1c" stroke-width="0.9"/>
<line x1="244.9" y1="299.72" x2="246.9" y2="299.72" stroke="#1c1c1c" stroke-width="0.9"/>
<line x1="244.9" y1="296.84" x2="246.9" y2="296.84" stroke="#1c1c1c" stroke-width="0.9"/>
<line x1="244.9" y1="293.96" x2="246.9" y2="293.96" stroke="#1c1c1c" stroke-width="0.9"/>
<line x1="244.9" y1="291.08" x2="246.9" y2="291.08" stroke="#1c1c1c" stroke-width="0.9"/>
<line x1="243.9" y1="288.2" x2="246.9" y2="288.2" stroke="#1c1c1c" stroke-width="1"/>
<text x="240.9" y="291.2" font-size="8.6" text-anchor="end" font-weight="normal" font-style="normal" fill="#2c2c2c" stroke="#2c2c2c" stroke-width="0.25">4</text>
<line x1="244.9" y1="285.32" x2="246.9" y2="285.32" stroke="#1c1c1c" stroke-width="0.9"/>
<line x1="244.9" y1="282.44" x2="246.9" y2="282.44" stroke="#1c1c1c" stroke-width="0.9"/>
<line x1="244.9" y1="279.56" x2="246.9" y2="279.56" stroke="#1c1c1c" stroke-width="0.9"/>
<line x1="244.9" y1="276.68" x2="246.9" y2="276.68" stroke="#1c1c1c" stroke-width="0.9"/>
<line x1="244.9" y1="273.8" x2="246.9" y2="273.8" stroke="#1c1c1c" stroke-width="0.9"/>
<line x1="244.9" y1="270.92" x2="246.9" y2="270.92" stroke="#1c1c1c" stroke-width="0.9"/>
<line x1="244.9" y1="268.04" x2="246.9" y2="268.04" stroke="#1c1c1c" stroke-width="0.9"/>
<line x1="244.9" y1="265.16" x2="246.9" y2="265.16" stroke="#1c1c1c" stroke-width="0.9"/>
<line x1="244.9" y1="262.28" x2="246.9" y2="262.28" stroke="#1c1c1c" stroke-width="0.9"/>
<line x1="243.9" y1="259.4" x2="246.9" y2="259.4" stroke="#1c1c1c" stroke-width="1"/>
<text x="240.9" y="262.4" font-size="8.6" text-anchor="end" font-weight="normal" font-style="normal" fill="#2c2c2c" stroke="#2c2c2c" stroke-width="0.25">6</text>
<line x1="246.9" y1="388.04" x2="246.9" y2="478.6" stroke="#1c1c1c" stroke-width="1.2"/>
<line x1="244.1" y1="478" x2="296.3" y2="478" stroke="#1c1c1c" stroke-width="1.3"/>
<line x1="243.9" y1="478" x2="246.9" y2="478" stroke="#1c1c1c" stroke-width="1"/>
<text x="240.9" y="481" font-size="8.6" text-anchor="end" font-weight="normal" font-style="normal" fill="#2c2c2c" stroke="#2c2c2c" stroke-width="0.25">0</text>
<line x1="244.9" y1="475.11" x2="246.9" y2="475.11" stroke="#1c1c1c" stroke-width="0.9"/>
<line x1="244.9" y1="472.22" x2="246.9" y2="472.22" stroke="#1c1c1c" stroke-width="0.9"/>
<line x1="244.9" y1="469.32" x2="246.9" y2="469.32" stroke="#1c1c1c" stroke-width="0.9"/>
<line x1="244.9" y1="466.43" x2="246.9" y2="466.43" stroke="#1c1c1c" stroke-width="0.9"/>
<line x1="244.9" y1="463.54" x2="246.9" y2="463.54" stroke="#1c1c1c" stroke-width="0.9"/>
<line x1="244.9" y1="460.65" x2="246.9" y2="460.65" stroke="#1c1c1c" stroke-width="0.9"/>
<line x1="244.9" y1="457.76" x2="246.9" y2="457.76" stroke="#1c1c1c" stroke-width="0.9"/>
<line x1="244.9" y1="454.86" x2="246.9" y2="454.86" stroke="#1c1c1c" stroke-width="0.9"/>
<line x1="244.9" y1="451.97" x2="246.9" y2="451.97" stroke="#1c1c1c" stroke-width="0.9"/>
<line x1="243.9" y1="449.08" x2="246.9" y2="449.08" stroke="#1c1c1c" stroke-width="1"/>
<text x="240.9" y="452.08" font-size="8.6" text-anchor="end" font-weight="normal" font-style="normal" fill="#2c2c2c" stroke="#2c2c2c" stroke-width="0.25">2</text>
<line x1="244.9" y1="446.19" x2="246.9" y2="446.19" stroke="#1c1c1c" stroke-width="0.9"/>
<line x1="244.9" y1="443.3" x2="246.9" y2="443.3" stroke="#1c1c1c" stroke-width="0.9"/>
<line x1="244.9" y1="440.4" x2="246.9" y2="440.4" stroke="#1c1c1c" stroke-width="0.9"/>
<line x1="244.9" y1="437.51" x2="246.9" y2="437.51" stroke="#1c1c1c" stroke-width="0.9"/>
<line x1="244.9" y1="434.62" x2="246.9" y2="434.62" stroke="#1c1c1c" stroke-width="0.9"/>
<line x1="244.9" y1="431.73" x2="246.9" y2="431.73" stroke="#1c1c1c" stroke-width="0.9"/>
<line x1="244.9" y1="428.84" x2="246.9" y2="428.84" stroke="#1c1c1c" stroke-width="0.9"/>
<line x1="244.9" y1="425.94" x2="246.9" y2="425.94" stroke="#1c1c1c" stroke-width="0.9"/>
<line x1="244.9" y1="423.05" x2="246.9" y2="423.05" stroke="#1c1c1c" stroke-width="0.9"/>
<line x1="243.9" y1="420.16" x2="246.9" y2="420.16" stroke="#1c1c1c" stroke-width="1"/>
<text x="240.9" y="423.16" font-size="8.6" text-anchor="end" font-weight="normal" font-style="normal" fill="#2c2c2c" stroke="#2c2c2c" stroke-width="0.25">4</text>
<line x1="244.9" y1="417.27" x2="246.9" y2="417.27" stroke="#1c1c1c" stroke-width="0.9"/>
<line x1="244.9" y1="414.38" x2="246.9" y2="414.38" stroke="#1c1c1c" stroke-width="0.9"/>
<line x1="244.9" y1="411.48" x2="246.9" y2="411.48" stroke="#1c1c1c" stroke-width="0.9"/>
<line x1="244.9" y1="408.59" x2="246.9" y2="408.59" stroke="#1c1c1c" stroke-width="0.9"/>
<line x1="244.9" y1="405.7" x2="246.9" y2="405.7" stroke="#1c1c1c" stroke-width="0.9"/>
<line x1="244.9" y1="402.81" x2="246.9" y2="402.81" stroke="#1c1c1c" stroke-width="0.9"/>
<line x1="244.9" y1="399.92" x2="246.9" y2="399.92" stroke="#1c1c1c" stroke-width="0.9"/>
<line x1="244.9" y1="397.02" x2="246.9" y2="397.02" stroke="#1c1c1c" stroke-width="0.9"/>
<line x1="244.9" y1="394.13" x2="246.9" y2="394.13" stroke="#1c1c1c" stroke-width="0.9"/>
<line x1="243.9" y1="391.24" x2="246.9" y2="391.24" stroke="#1c1c1c" stroke-width="1"/>
<text x="240.9" y="394.24" font-size="8.6" text-anchor="end" font-weight="normal" font-style="normal" fill="#2c2c2c" stroke="#2c2c2c" stroke-width="0.25">6</text>
<line x1="318.8" y1="256.2" x2="318.8" y2="346.4" stroke="#1c1c1c" stroke-width="1.2"/>
<line x1="316" y1="345.8" x2="368.2" y2="345.8" stroke="#1c1c1c" stroke-width="1.3"/>
<line x1="315.8" y1="345.8" x2="318.8" y2="345.8" stroke="#1c1c1c" stroke-width="1"/>
<text x="312.8" y="348.8" font-size="8.6" text-anchor="end" font-weight="normal" font-style="normal" fill="#2c2c2c" stroke="#2c2c2c" stroke-width="0.25">0</text>
<line x1="316.8" y1="342.92" x2="318.8" y2="342.92" stroke="#1c1c1c" stroke-width="0.9"/>
<line x1="316.8" y1="340.04" x2="318.8" y2="340.04" stroke="#1c1c1c" stroke-width="0.9"/>
<line x1="316.8" y1="337.16" x2="318.8" y2="337.16" stroke="#1c1c1c" stroke-width="0.9"/>
<line x1="316.8" y1="334.28" x2="318.8" y2="334.28" stroke="#1c1c1c" stroke-width="0.9"/>
<line x1="316.8" y1="331.4" x2="318.8" y2="331.4" stroke="#1c1c1c" stroke-width="0.9"/>
<line x1="316.8" y1="328.52" x2="318.8" y2="328.52" stroke="#1c1c1c" stroke-width="0.9"/>
<line x1="316.8" y1="325.64" x2="318.8" y2="325.64" stroke="#1c1c1c" stroke-width="0.9"/>
<line x1="316.8" y1="322.76" x2="318.8" y2="322.76" stroke="#1c1c1c" stroke-width="0.9"/>
<line x1="316.8" y1="319.88" x2="318.8" y2="319.88" stroke="#1c1c1c" stroke-width="0.9"/>
<line x1="315.8" y1="317" x2="318.8" y2="317" stroke="#1c1c1c" stroke-width="1"/>
<text x="312.8" y="320" font-size="8.6" text-anchor="end" font-weight="normal" font-style="normal" fill="#2c2c2c" stroke="#2c2c2c" stroke-width="0.25">2</text>
<line x1="316.8" y1="314.12" x2="318.8" y2="314.12" stroke="#1c1c1c" stroke-width="0.9"/>
<line x1="316.8" y1="311.24" x2="318.8" y2="311.24" stroke="#1c1c1c" stroke-width="0.9"/>
<line x1="316.8" y1="308.36" x2="318.8" y2="308.36" stroke="#1c1c1c" stroke-width="0.9"/>
<line x1="316.8" y1="305.48" x2="318.8" y2="305.48" stroke="#1c1c1c" stroke-width="0.9"/>
<line x1="316.8" y1="302.6" x2="318.8" y2="302.6" stroke="#1c1c1c" stroke-width="0.9"/>
<line x1="316.8" y1="299.72" x2="318.8" y2="299.72" stroke="#1c1c1c" stroke-width="0.9"/>
<line x1="316.8" y1="296.84" x2="318.8" y2="296.84" stroke="#1c1c1c" stroke-width="0.9"/>
<line x1="316.8" y1="293.96" x2="318.8" y2="293.96" stroke="#1c1c1c" stroke-width="0.9"/>
<line x1="316.8" y1="291.08" x2="318.8" y2="291.08" stroke="#1c1c1c" stroke-width="0.9"/>
<line x1="315.8" y1="288.2" x2="318.8" y2="288.2" stroke="#1c1c1c" stroke-width="1"/>
<text x="312.8" y="291.2" font-size="8.6" text-anchor="end" font-weight="normal" font-style="normal" fill="#2c2c2c" stroke="#2c2c2c" stroke-width="0.25">4</text>
<line x1="316.8" y1="285.32" x2="318.8" y2="285.32" stroke="#1c1c1c" stroke-width="0.9"/>
<line x1="316.8" y1="282.44" x2="318.8" y2="282.44" stroke="#1c1c1c" stroke-width="0.9"/>
<line x1="316.8" y1="279.56" x2="318.8" y2="279.56" stroke="#1c1c1c" stroke-width="0.9"/>
<line x1="316.8" y1="276.68" x2="318.8" y2="276.68" stroke="#1c1c1c" stroke-width="0.9"/>
<line x1="316.8" y1="273.8" x2="318.8" y2="273.8" stroke="#1c1c1c" stroke-width="0.9"/>
<line x1="316.8" y1="270.92" x2="318.8" y2="270.92" stroke="#1c1c1c" stroke-width="0.9"/>
<line x1="316.8" y1="268.04" x2="318.8" y2="268.04" stroke="#1c1c1c" stroke-width="0.9"/>
<line x1="316.8" y1="265.16" x2="318.8" y2="265.16" stroke="#1c1c1c" stroke-width="0.9"/>
<line x1="316.8" y1="262.28" x2="318.8" y2="262.28" stroke="#1c1c1c" stroke-width="0.9"/>
<line x1="315.8" y1="259.4" x2="318.8" y2="259.4" stroke="#1c1c1c" stroke-width="1"/>
<text x="312.8" y="262.4" font-size="8.6" text-anchor="end" font-weight="normal" font-style="normal" fill="#2c2c2c" stroke="#2c2c2c" stroke-width="0.25">6</text>
<line x1="318.8" y1="388.04" x2="318.8" y2="478.6" stroke="#1c1c1c" stroke-width="1.2"/>
<line x1="316" y1="478" x2="368.2" y2="478" stroke="#1c1c1c" stroke-width="1.3"/>
<line x1="315.8" y1="478" x2="318.8" y2="478" stroke="#1c1c1c" stroke-width="1"/>
<text x="312.8" y="481" font-size="8.6" text-anchor="end" font-weight="normal" font-style="normal" fill="#2c2c2c" stroke="#2c2c2c" stroke-width="0.25">0</text>
<line x1="316.8" y1="475.11" x2="318.8" y2="475.11" stroke="#1c1c1c" stroke-width="0.9"/>
<line x1="316.8" y1="472.22" x2="318.8" y2="472.22" stroke="#1c1c1c" stroke-width="0.9"/>
<line x1="316.8" y1="469.32" x2="318.8" y2="469.32" stroke="#1c1c1c" stroke-width="0.9"/>
<line x1="316.8" y1="466.43" x2="318.8" y2="466.43" stroke="#1c1c1c" stroke-width="0.9"/>
<line x1="316.8" y1="463.54" x2="318.8" y2="463.54" stroke="#1c1c1c" stroke-width="0.9"/>
<line x1="316.8" y1="460.65" x2="318.8" y2="460.65" stroke="#1c1c1c" stroke-width="0.9"/>
<line x1="316.8" y1="457.76" x2="318.8" y2="457.76" stroke="#1c1c1c" stroke-width="0.9"/>
<line x1="316.8" y1="454.86" x2="318.8" y2="454.86" stroke="#1c1c1c" stroke-width="0.9"/>
<line x1="316.8" y1="451.97" x2="318.8" y2="451.97" stroke="#1c1c1c" stroke-width="0.9"/>
<line x1="315.8" y1="449.08" x2="318.8" y2="449.08" stroke="#1c1c1c" stroke-width="1"/>
<text x="312.8" y="452.08" font-size="8.6" text-anchor="end" font-weight="normal" font-style="normal" fill="#2c2c2c" stroke="#2c2c2c" stroke-width="0.25">2</text>
<line x1="316.8" y1="446.19" x2="318.8" y2="446.19" stroke="#1c1c1c" stroke-width="0.9"/>
<line x1="316.8" y1="443.3" x2="318.8" y2="443.3" stroke="#1c1c1c" stroke-width="0.9"/>
<line x1="316.8" y1="440.4" x2="318.8" y2="440.4" stroke="#1c1c1c" stroke-width="0.9"/>
<line x1="316.8" y1="437.51" x2="318.8" y2="437.51" stroke="#1c1c1c" stroke-width="0.9"/>
<line x1="316.8" y1="434.62" x2="318.8" y2="434.62" stroke="#1c1c1c" stroke-width="0.9"/>
<line x1="316.8" y1="431.73" x2="318.8" y2="431.73" stroke="#1c1c1c" stroke-width="0.9"/>
<line x1="316.8" y1="428.84" x2="318.8" y2="428.84" stroke="#1c1c1c" stroke-width="0.9"/>
<line x1="316.8" y1="425.94" x2="318.8" y2="425.94" stroke="#1c1c1c" stroke-width="0.9"/>
<line x1="316.8" y1="423.05" x2="318.8" y2="423.05" stroke="#1c1c1c" stroke-width="0.9"/>
<line x1="315.8" y1="420.16" x2="318.8" y2="420.16" stroke="#1c1c1c" stroke-width="1"/>
<text x="312.8" y="423.16" font-size="8.6" text-anchor="end" font-weight="normal" font-style="normal" fill="#2c2c2c" stroke="#2c2c2c" stroke-width="0.25">4</text>
<line x1="316.8" y1="417.27" x2="318.8" y2="417.27" stroke="#1c1c1c" stroke-width="0.9"/>
<line x1="316.8" y1="414.38" x2="318.8" y2="414.38" stroke="#1c1c1c" stroke-width="0.9"/>
<line x1="316.8" y1="411.48" x2="318.8" y2="411.48" stroke="#1c1c1c" stroke-width="0.9"/>
<line x1="316.8" y1="408.59" x2="318.8" y2="408.59" stroke="#1c1c1c" stroke-width="0.9"/>
<line x1="316.8" y1="405.7" x2="318.8" y2="405.7" stroke="#1c1c1c" stroke-width="0.9"/>
<line x1="316.8" y1="402.81" x2="318.8" y2="402.81" stroke="#1c1c1c" stroke-width="0.9"/>
<line x1="316.8" y1="399.92" x2="318.8" y2="399.92" stroke="#1c1c1c" stroke-width="0.9"/>
<line x1="316.8" y1="397.02" x2="318.8" y2="397.02" stroke="#1c1c1c" stroke-width="0.9"/>
<line x1="316.8" y1="394.13" x2="318.8" y2="394.13" stroke="#1c1c1c" stroke-width="0.9"/>
<line x1="315.8" y1="391.24" x2="318.8" y2="391.24" stroke="#1c1c1c" stroke-width="1"/>
<text x="312.8" y="394.24" font-size="8.6" text-anchor="end" font-weight="normal" font-style="normal" fill="#2c2c2c" stroke="#2c2c2c" stroke-width="0.25">6</text>
<line x1="390.4" y1="256.2" x2="390.4" y2="346.4" stroke="#1c1c1c" stroke-width="1.2"/>
<line x1="387.6" y1="345.8" x2="439.8" y2="345.8" stroke="#1c1c1c" stroke-width="1.3"/>
<line x1="387.4" y1="345.8" x2="390.4" y2="345.8" stroke="#1c1c1c" stroke-width="1"/>
<text x="384.4" y="348.8" font-size="8.6" text-anchor="end" font-weight="normal" font-style="normal" fill="#2c2c2c" stroke="#2c2c2c" stroke-width="0.25">0</text>
<line x1="388.4" y1="342.92" x2="390.4" y2="342.92" stroke="#1c1c1c" stroke-width="0.9"/>
<line x1="388.4" y1="340.04" x2="390.4" y2="340.04" stroke="#1c1c1c" stroke-width="0.9"/>
<line x1="388.4" y1="337.16" x2="390.4" y2="337.16" stroke="#1c1c1c" stroke-width="0.9"/>
<line x1="388.4" y1="334.28" x2="390.4" y2="334.28" stroke="#1c1c1c" stroke-width="0.9"/>
<line x1="388.4" y1="331.4" x2="390.4" y2="331.4" stroke="#1c1c1c" stroke-width="0.9"/>
<line x1="388.4" y1="328.52" x2="390.4" y2="328.52" stroke="#1c1c1c" stroke-width="0.9"/>
<line x1="388.4" y1="325.64" x2="390.4" y2="325.64" stroke="#1c1c1c" stroke-width="0.9"/>
<line x1="388.4" y1="322.76" x2="390.4" y2="322.76" stroke="#1c1c1c" stroke-width="0.9"/>
<line x1="388.4" y1="319.88" x2="390.4" y2="319.88" stroke="#1c1c1c" stroke-width="0.9"/>
<line x1="387.4" y1="317" x2="390.4" y2="317" stroke="#1c1c1c" stroke-width="1"/>
<text x="384.4" y="320" font-size="8.6" text-anchor="end" font-weight="normal" font-style="normal" fill="#2c2c2c" stroke="#2c2c2c" stroke-width="0.25">2</text>
<line x1="388.4" y1="314.12" x2="390.4" y2="314.12" stroke="#1c1c1c" stroke-width="0.9"/>
<line x1="388.4" y1="311.24" x2="390.4" y2="311.24" stroke="#1c1c1c" stroke-width="0.9"/>
<line x1="388.4" y1="308.36" x2="390.4" y2="308.36" stroke="#1c1c1c" stroke-width="0.9"/>
<line x1="388.4" y1="305.48" x2="390.4" y2="305.48" stroke="#1c1c1c" stroke-width="0.9"/>
<line x1="388.4" y1="302.6" x2="390.4" y2="302.6" stroke="#1c1c1c" stroke-width="0.9"/>
<line x1="388.4" y1="299.72" x2="390.4" y2="299.72" stroke="#1c1c1c" stroke-width="0.9"/>
<line x1="388.4" y1="296.84" x2="390.4" y2="296.84" stroke="#1c1c1c" stroke-width="0.9"/>
<line x1="388.4" y1="293.96" x2="390.4" y2="293.96" stroke="#1c1c1c" stroke-width="0.9"/>
<line x1="388.4" y1="291.08" x2="390.4" y2="291.08" stroke="#1c1c1c" stroke-width="0.9"/>
<line x1="387.4" y1="288.2" x2="390.4" y2="288.2" stroke="#1c1c1c" stroke-width="1"/>
<text x="384.4" y="291.2" font-size="8.6" text-anchor="end" font-weight="normal" font-style="normal" fill="#2c2c2c" stroke="#2c2c2c" stroke-width="0.25">4</text>
<line x1="388.4" y1="285.32" x2="390.4" y2="285.32" stroke="#1c1c1c" stroke-width="0.9"/>
<line x1="388.4" y1="282.44" x2="390.4" y2="282.44" stroke="#1c1c1c" stroke-width="0.9"/>
<line x1="388.4" y1="279.56" x2="390.4" y2="279.56" stroke="#1c1c1c" stroke-width="0.9"/>
<line x1="388.4" y1="276.68" x2="390.4" y2="276.68" stroke="#1c1c1c" stroke-width="0.9"/>
<line x1="388.4" y1="273.8" x2="390.4" y2="273.8" stroke="#1c1c1c" stroke-width="0.9"/>
<line x1="388.4" y1="270.92" x2="390.4" y2="270.92" stroke="#1c1c1c" stroke-width="0.9"/>
<line x1="388.4" y1="268.04" x2="390.4" y2="268.04" stroke="#1c1c1c" stroke-width="0.9"/>
<line x1="388.4" y1="265.16" x2="390.4" y2="265.16" stroke="#1c1c1c" stroke-width="0.9"/>
<line x1="388.4" y1="262.28" x2="390.4" y2="262.28" stroke="#1c1c1c" stroke-width="0.9"/>
<line x1="387.4" y1="259.4" x2="390.4" y2="259.4" stroke="#1c1c1c" stroke-width="1"/>
<text x="384.4" y="262.4" font-size="8.6" text-anchor="end" font-weight="normal" font-style="normal" fill="#2c2c2c" stroke="#2c2c2c" stroke-width="0.25">6</text>
<line x1="390.4" y1="388.04" x2="390.4" y2="478.6" stroke="#1c1c1c" stroke-width="1.2"/>
<line x1="387.6" y1="478" x2="439.8" y2="478" stroke="#1c1c1c" stroke-width="1.3"/>
<line x1="387.4" y1="478" x2="390.4" y2="478" stroke="#1c1c1c" stroke-width="1"/>
<text x="384.4" y="481" font-size="8.6" text-anchor="end" font-weight="normal" font-style="normal" fill="#2c2c2c" stroke="#2c2c2c" stroke-width="0.25">0</text>
<line x1="388.4" y1="475.11" x2="390.4" y2="475.11" stroke="#1c1c1c" stroke-width="0.9"/>
<line x1="388.4" y1="472.22" x2="390.4" y2="472.22" stroke="#1c1c1c" stroke-width="0.9"/>
<line x1="388.4" y1="469.32" x2="390.4" y2="469.32" stroke="#1c1c1c" stroke-width="0.9"/>
<line x1="388.4" y1="466.43" x2="390.4" y2="466.43" stroke="#1c1c1c" stroke-width="0.9"/>
<line x1="388.4" y1="463.54" x2="390.4" y2="463.54" stroke="#1c1c1c" stroke-width="0.9"/>
<line x1="388.4" y1="460.65" x2="390.4" y2="460.65" stroke="#1c1c1c" stroke-width="0.9"/>
<line x1="388.4" y1="457.76" x2="390.4" y2="457.76" stroke="#1c1c1c" stroke-width="0.9"/>
<line x1="388.4" y1="454.86" x2="390.4" y2="454.86" stroke="#1c1c1c" stroke-width="0.9"/>
<line x1="388.4" y1="451.97" x2="390.4" y2="451.97" stroke="#1c1c1c" stroke-width="0.9"/>
<line x1="387.4" y1="449.08" x2="390.4" y2="449.08" stroke="#1c1c1c" stroke-width="1"/>
<text x="384.4" y="452.08" font-size="8.6" text-anchor="end" font-weight="normal" font-style="normal" fill="#2c2c2c" stroke="#2c2c2c" stroke-width="0.25">2</text>
<line x1="388.4" y1="446.19" x2="390.4" y2="446.19" stroke="#1c1c1c" stroke-width="0.9"/>
<line x1="388.4" y1="443.3" x2="390.4" y2="443.3" stroke="#1c1c1c" stroke-width="0.9"/>
<line x1="388.4" y1="440.4" x2="390.4" y2="440.4" stroke="#1c1c1c" stroke-width="0.9"/>
<line x1="388.4" y1="437.51" x2="390.4" y2="437.51" stroke="#1c1c1c" stroke-width="0.9"/>
<line x1="388.4" y1="434.62" x2="390.4" y2="434.62" stroke="#1c1c1c" stroke-width="0.9"/>
<line x1="388.4" y1="431.73" x2="390.4" y2="431.73" stroke="#1c1c1c" stroke-width="0.9"/>
<line x1="388.4" y1="428.84" x2="390.4" y2="428.84" stroke="#1c1c1c" stroke-width="0.9"/>
<line x1="388.4" y1="425.94" x2="390.4" y2="425.94" stroke="#1c1c1c" stroke-width="0.9"/>
<line x1="388.4" y1="423.05" x2="390.4" y2="423.05" stroke="#1c1c1c" stroke-width="0.9"/>
<line x1="387.4" y1="420.16" x2="390.4" y2="420.16" stroke="#1c1c1c" stroke-width="1"/>
<text x="384.4" y="423.16" font-size="8.6" text-anchor="end" font-weight="normal" font-style="normal" fill="#2c2c2c" stroke="#2c2c2c" stroke-width="0.25">4</text>
<line x1="388.4" y1="417.27" x2="390.4" y2="417.27" stroke="#1c1c1c" stroke-width="0.9"/>
<line x1="388.4" y1="414.38" x2="390.4" y2="414.38" stroke="#1c1c1c" stroke-width="0.9"/>
<line x1="388.4" y1="411.48" x2="390.4" y2="411.48" stroke="#1c1c1c" stroke-width="0.9"/>
<line x1="388.4" y1="408.59" x2="390.4" y2="408.59" stroke="#1c1c1c" stroke-width="0.9"/>
<line x1="388.4" y1="405.7" x2="390.4" y2="405.7" stroke="#1c1c1c" stroke-width="0.9"/>
<line x1="388.4" y1="402.81" x2="390.4" y2="402.81" stroke="#1c1c1c" stroke-width="0.9"/>
<line x1="388.4" y1="399.92" x2="390.4" y2="399.92" stroke="#1c1c1c" stroke-width="0.9"/>
<line x1="388.4" y1="397.02" x2="390.4" y2="397.02" stroke="#1c1c1c" stroke-width="0.9"/>
<line x1="388.4" y1="394.13" x2="390.4" y2="394.13" stroke="#1c1c1c" stroke-width="0.9"/>
<line x1="387.4" y1="391.24" x2="390.4" y2="391.24" stroke="#1c1c1c" stroke-width="1"/>
<text x="384.4" y="394.24" font-size="8.6" text-anchor="end" font-weight="normal" font-style="normal" fill="#2c2c2c" stroke="#2c2c2c" stroke-width="0.25">6</text>
<line x1="463.5" y1="256.2" x2="463.5" y2="346.4" stroke="#1c1c1c" stroke-width="1.2"/>
<line x1="460.7" y1="345.8" x2="512.9" y2="345.8" stroke="#1c1c1c" stroke-width="1.3"/>
<line x1="460.5" y1="345.8" x2="463.5" y2="345.8" stroke="#1c1c1c" stroke-width="1"/>
<text x="457.5" y="348.8" font-size="8.6" text-anchor="end" font-weight="normal" font-style="normal" fill="#2c2c2c" stroke="#2c2c2c" stroke-width="0.25">0</text>
<line x1="461.5" y1="342.92" x2="463.5" y2="342.92" stroke="#1c1c1c" stroke-width="0.9"/>
<line x1="461.5" y1="340.04" x2="463.5" y2="340.04" stroke="#1c1c1c" stroke-width="0.9"/>
<line x1="461.5" y1="337.16" x2="463.5" y2="337.16" stroke="#1c1c1c" stroke-width="0.9"/>
<line x1="461.5" y1="334.28" x2="463.5" y2="334.28" stroke="#1c1c1c" stroke-width="0.9"/>
<line x1="461.5" y1="331.4" x2="463.5" y2="331.4" stroke="#1c1c1c" stroke-width="0.9"/>
<line x1="461.5" y1="328.52" x2="463.5" y2="328.52" stroke="#1c1c1c" stroke-width="0.9"/>
<line x1="461.5" y1="325.64" x2="463.5" y2="325.64" stroke="#1c1c1c" stroke-width="0.9"/>
<line x1="461.5" y1="322.76" x2="463.5" y2="322.76" stroke="#1c1c1c" stroke-width="0.9"/>
<line x1="461.5" y1="319.88" x2="463.5" y2="319.88" stroke="#1c1c1c" stroke-width="0.9"/>
<line x1="460.5" y1="317" x2="463.5" y2="317" stroke="#1c1c1c" stroke-width="1"/>
<text x="457.5" y="320" font-size="8.6" text-anchor="end" font-weight="normal" font-style="normal" fill="#2c2c2c" stroke="#2c2c2c" stroke-width="0.25">2</text>
<line x1="461.5" y1="314.12" x2="463.5" y2="314.12" stroke="#1c1c1c" stroke-width="0.9"/>
<line x1="461.5" y1="311.24" x2="463.5" y2="311.24" stroke="#1c1c1c" stroke-width="0.9"/>
<line x1="461.5" y1="308.36" x2="463.5" y2="308.36" stroke="#1c1c1c" stroke-width="0.9"/>
<line x1="461.5" y1="305.48" x2="463.5" y2="305.48" stroke="#1c1c1c" stroke-width="0.9"/>
<line x1="461.5" y1="302.6" x2="463.5" y2="302.6" stroke="#1c1c1c" stroke-width="0.9"/>
<line x1="461.5" y1="299.72" x2="463.5" y2="299.72" stroke="#1c1c1c" stroke-width="0.9"/>
<line x1="461.5" y1="296.84" x2="463.5" y2="296.84" stroke="#1c1c1c" stroke-width="0.9"/>
<line x1="461.5" y1="293.96" x2="463.5" y2="293.96" stroke="#1c1c1c" stroke-width="0.9"/>
<line x1="461.5" y1="291.08" x2="463.5" y2="291.08" stroke="#1c1c1c" stroke-width="0.9"/>
<line x1="460.5" y1="288.2" x2="463.5" y2="288.2" stroke="#1c1c1c" stroke-width="1"/>
<text x="457.5" y="291.2" font-size="8.6" text-anchor="end" font-weight="normal" font-style="normal" fill="#2c2c2c" stroke="#2c2c2c" stroke-width="0.25">4</text>
<line x1="461.5" y1="285.32" x2="463.5" y2="285.32" stroke="#1c1c1c" stroke-width="0.9"/>
<line x1="461.5" y1="282.44" x2="463.5" y2="282.44" stroke="#1c1c1c" stroke-width="0.9"/>
<line x1="461.5" y1="279.56" x2="463.5" y2="279.56" stroke="#1c1c1c" stroke-width="0.9"/>
<line x1="461.5" y1="276.68" x2="463.5" y2="276.68" stroke="#1c1c1c" stroke-width="0.9"/>
<line x1="461.5" y1="273.8" x2="463.5" y2="273.8" stroke="#1c1c1c" stroke-width="0.9"/>
<line x1="461.5" y1="270.92" x2="463.5" y2="270.92" stroke="#1c1c1c" stroke-width="0.9"/>
<line x1="461.5" y1="268.04" x2="463.5" y2="268.04" stroke="#1c1c1c" stroke-width="0.9"/>
<line x1="461.5" y1="265.16" x2="463.5" y2="265.16" stroke="#1c1c1c" stroke-width="0.9"/>
<line x1="461.5" y1="262.28" x2="463.5" y2="262.28" stroke="#1c1c1c" stroke-width="0.9"/>
<line x1="460.5" y1="259.4" x2="463.5" y2="259.4" stroke="#1c1c1c" stroke-width="1"/>
<text x="457.5" y="262.4" font-size="8.6" text-anchor="end" font-weight="normal" font-style="normal" fill="#2c2c2c" stroke="#2c2c2c" stroke-width="0.25">6</text>
<line x1="463.5" y1="388.04" x2="463.5" y2="478.6" stroke="#1c1c1c" stroke-width="1.2"/>
<line x1="460.7" y1="478" x2="512.9" y2="478" stroke="#1c1c1c" stroke-width="1.3"/>
<line x1="460.5" y1="478" x2="463.5" y2="478" stroke="#1c1c1c" stroke-width="1"/>
<text x="457.5" y="481" font-size="8.6" text-anchor="end" font-weight="normal" font-style="normal" fill="#2c2c2c" stroke="#2c2c2c" stroke-width="0.25">0</text>
<line x1="461.5" y1="475.11" x2="463.5" y2="475.11" stroke="#1c1c1c" stroke-width="0.9"/>
<line x1="461.5" y1="472.22" x2="463.5" y2="472.22" stroke="#1c1c1c" stroke-width="0.9"/>
<line x1="461.5" y1="469.32" x2="463.5" y2="469.32" stroke="#1c1c1c" stroke-width="0.9"/>
<line x1="461.5" y1="466.43" x2="463.5" y2="466.43" stroke="#1c1c1c" stroke-width="0.9"/>
<line x1="461.5" y1="463.54" x2="463.5" y2="463.54" stroke="#1c1c1c" stroke-width="0.9"/>
<line x1="461.5" y1="460.65" x2="463.5" y2="460.65" stroke="#1c1c1c" stroke-width="0.9"/>
<line x1="461.5" y1="457.76" x2="463.5" y2="457.76" stroke="#1c1c1c" stroke-width="0.9"/>
<line x1="461.5" y1="454.86" x2="463.5" y2="454.86" stroke="#1c1c1c" stroke-width="0.9"/>
<line x1="461.5" y1="451.97" x2="463.5" y2="451.97" stroke="#1c1c1c" stroke-width="0.9"/>
<line x1="460.5" y1="449.08" x2="463.5" y2="449.08" stroke="#1c1c1c" stroke-width="1"/>
<text x="457.5" y="452.08" font-size="8.6" text-anchor="end" font-weight="normal" font-style="normal" fill="#2c2c2c" stroke="#2c2c2c" stroke-width="0.25">2</text>
<line x1="461.5" y1="446.19" x2="463.5" y2="446.19" stroke="#1c1c1c" stroke-width="0.9"/>
<line x1="461.5" y1="443.3" x2="463.5" y2="443.3" stroke="#1c1c1c" stroke-width="0.9"/>
<line x1="461.5" y1="440.4" x2="463.5" y2="440.4" stroke="#1c1c1c" stroke-width="0.9"/>
<line x1="461.5" y1="437.51" x2="463.5" y2="437.51" stroke="#1c1c1c" stroke-width="0.9"/>
<line x1="461.5" y1="434.62" x2="463.5" y2="434.62" stroke="#1c1c1c" stroke-width="0.9"/>
<line x1="461.5" y1="431.73" x2="463.5" y2="431.73" stroke="#1c1c1c" stroke-width="0.9"/>
<line x1="461.5" y1="428.84" x2="463.5" y2="428.84" stroke="#1c1c1c" stroke-width="0.9"/>
<line x1="461.5" y1="425.94" x2="463.5" y2="425.94" stroke="#1c1c1c" stroke-width="0.9"/>
<line x1="461.5" y1="423.05" x2="463.5" y2="423.05" stroke="#1c1c1c" stroke-width="0.9"/>
<line x1="460.5" y1="420.16" x2="463.5" y2="420.16" stroke="#1c1c1c" stroke-width="1"/>
<text x="457.5" y="423.16" font-size="8.6" text-anchor="end" font-weight="normal" font-style="normal" fill="#2c2c2c" stroke="#2c2c2c" stroke-width="0.25">4</text>
<line x1="461.5" y1="417.27" x2="463.5" y2="417.27" stroke="#1c1c1c" stroke-width="0.9"/>
<line x1="461.5" y1="414.38" x2="463.5" y2="414.38" stroke="#1c1c1c" stroke-width="0.9"/>
<line x1="461.5" y1="411.48" x2="463.5" y2="411.48" stroke="#1c1c1c" stroke-width="0.9"/>
<line x1="461.5" y1="408.59" x2="463.5" y2="408.59" stroke="#1c1c1c" stroke-width="0.9"/>
<line x1="461.5" y1="405.7" x2="463.5" y2="405.7" stroke="#1c1c1c" stroke-width="0.9"/>
<line x1="461.5" y1="402.81" x2="463.5" y2="402.81" stroke="#1c1c1c" stroke-width="0.9"/>
<line x1="461.5" y1="399.92" x2="463.5" y2="399.92" stroke="#1c1c1c" stroke-width="0.9"/>
<line x1="461.5" y1="397.02" x2="463.5" y2="397.02" stroke="#1c1c1c" stroke-width="0.9"/>
<line x1="461.5" y1="394.13" x2="463.5" y2="394.13" stroke="#1c1c1c" stroke-width="0.9"/>
<line x1="460.5" y1="391.24" x2="463.5" y2="391.24" stroke="#1c1c1c" stroke-width="1"/>
<text x="457.5" y="394.24" font-size="8.6" text-anchor="end" font-weight="normal" font-style="normal" fill="#2c2c2c" stroke="#2c2c2c" stroke-width="0.25">6</text>
<rect x="36.8" y="331.5" width="7" height="12.7" fill="#e5e4e8"/>
<rect x="48.5" y="318.5" width="7" height="25.7" fill="#e5e4e8"/>
<rect x="60.1" y="318.5" width="7" height="25.7" fill="#e5e4e8"/>
<rect x="71.7" y="294" width="7" height="50.2" fill="#e5e4e8"/>
<line x1="63.6" y1="306" x2="63.6" y2="315.5" stroke="#222" stroke-width="0.9"/>
<line x1="62" y1="306" x2="65.2" y2="306" stroke="#222" stroke-width="0.9"/>
<line x1="62" y1="315.5" x2="65.2" y2="315.5" stroke="#222" stroke-width="0.9"/>
<line x1="61.2" y1="310.5" x2="66" y2="310.5" stroke="#222" stroke-width="1"/>
<line x1="75.2" y1="286" x2="75.2" y2="294.5" stroke="#222" stroke-width="0.9"/>
<line x1="73.6" y1="286" x2="76.8" y2="286" stroke="#222" stroke-width="0.9"/>
<line x1="73.6" y1="294.5" x2="76.8" y2="294.5" stroke="#222" stroke-width="0.9"/>
<line x1="72.8" y1="290" x2="77.6" y2="290" stroke="#222" stroke-width="1"/>
<circle cx="39.5" cy="323.6" r="1.6" fill="#4a8ea8" stroke="#164b60" stroke-width="0.8"/>
<circle cx="41.8" cy="325.2" r="1.6" fill="#4a8ea8" stroke="#164b60" stroke-width="0.8"/>
<circle cx="38.6" cy="326.8" r="1.6" fill="#4a8ea8" stroke="#164b60" stroke-width="0.8"/>
<circle cx="41.2" cy="328.8" r="1.6" fill="#4a8ea8" stroke="#164b60" stroke-width="0.8"/>
<circle cx="39.8" cy="331.2" r="1.6" fill="#4a8ea8" stroke="#164b60" stroke-width="0.8"/>
<circle cx="40.6" cy="329.6" r="1.6" fill="#4a8ea8" stroke="#164b60" stroke-width="0.8"/>
<circle cx="50.5" cy="313.5" r="1.6" fill="#525a63" stroke="#15191d" stroke-width="0.8"/>
<circle cx="53" cy="314.2" r="1.6" fill="#525a63" stroke="#15191d" stroke-width="0.8"/>
<circle cx="51.6" cy="316.2" r="1.6" fill="#525a63" stroke="#15191d" stroke-width="0.8"/>
<circle cx="53.8" cy="317.8" r="1.6" fill="#525a63" stroke="#15191d" stroke-width="0.8"/>
<circle cx="50.8" cy="318.8" r="1.6" fill="#525a63" stroke="#15191d" stroke-width="0.8"/>
<circle cx="52.4" cy="320.6" r="1.6" fill="#525a63" stroke="#15191d" stroke-width="0.8"/>
<circle cx="63.2" cy="302" r="1.85" fill="#d43d18"/>
<circle cx="62" cy="306.5" r="1.85" fill="#d43d18"/>
<circle cx="64.6" cy="309.5" r="1.85" fill="#d43d18"/>
<circle cx="62.6" cy="312.8" r="1.85" fill="#d43d18"/>
<circle cx="64.8" cy="315.6" r="1.85" fill="#d43d18"/>
<circle cx="62.6" cy="316.8" r="1.85" fill="#d43d18"/>
<circle cx="74.8" cy="273.2" r="1.85" fill="#0d8a3e"/>
<circle cx="73.6" cy="288" r="1.85" fill="#0d8a3e"/>
<circle cx="76.6" cy="288" r="1.85" fill="#0d8a3e"/>
<circle cx="73.6" cy="292.5" r="1.85" fill="#0d8a3e"/>
<circle cx="77.2" cy="296" r="1.85" fill="#0d8a3e"/>
<circle cx="75" cy="302.6" r="1.85" fill="#0d8a3e"/>
<polyline points="51.4,309.4 51.4,265.2 74.7,265.2 74.7,269" fill="none" stroke="#555" stroke-width="0.9"/>
<circle cx="57.42" cy="261.1" r="1.25" fill="#1a1a1a"/>
<circle cx="61.17" cy="261.1" r="1.25" fill="#1a1a1a"/>
<circle cx="64.92" cy="261.1" r="1.25" fill="#1a1a1a"/>
<circle cx="68.67" cy="261.1" r="1.25" fill="#1a1a1a"/>
<rect x="106" y="333.5" width="7" height="10.7" fill="#e5e4e8"/>
<rect x="117.7" y="328" width="7" height="16.2" fill="#e5e4e8"/>
<rect x="129.3" y="303.5" width="7" height="40.7" fill="#e5e4e8"/>
<rect x="140.9" y="288" width="7" height="56.2" fill="#e5e4e8"/>
<line x1="132.8" y1="303" x2="132.8" y2="311" stroke="#222" stroke-width="0.9"/>
<line x1="131.2" y1="303" x2="134.4" y2="303" stroke="#222" stroke-width="0.9"/>
<line x1="131.2" y1="311" x2="134.4" y2="311" stroke="#222" stroke-width="0.9"/>
<line x1="130.4" y1="308" x2="135.2" y2="308" stroke="#222" stroke-width="1"/>
<line x1="144.4" y1="281.3" x2="144.4" y2="293" stroke="#222" stroke-width="0.9"/>
<line x1="142.8" y1="281.3" x2="146" y2="281.3" stroke="#222" stroke-width="0.9"/>
<line x1="142.8" y1="293" x2="146" y2="293" stroke="#222" stroke-width="0.9"/>
<line x1="142" y1="287" x2="146.8" y2="287" stroke="#222" stroke-width="1"/>
<circle cx="109.9" cy="325.2" r="1.6" fill="#4a8ea8" stroke="#164b60" stroke-width="0.8"/>
<circle cx="111.1" cy="331.3" r="1.6" fill="#4a8ea8" stroke="#164b60" stroke-width="0.8"/>
<circle cx="108.1" cy="333.6" r="1.6" fill="#4a8ea8" stroke="#164b60" stroke-width="0.8"/>
<circle cx="112.2" cy="336" r="1.6" fill="#4a8ea8" stroke="#164b60" stroke-width="0.8"/>
<circle cx="107.6" cy="340.1" r="1.6" fill="#4a8ea8" stroke="#164b60" stroke-width="0.8"/>
<circle cx="109.9" cy="334.8" r="1.6" fill="#4a8ea8" stroke="#164b60" stroke-width="0.8"/>
<circle cx="118.7" cy="313.8" r="1.6" fill="#525a63" stroke="#15191d" stroke-width="0.8"/>
<circle cx="123.4" cy="310.8" r="1.6" fill="#525a63" stroke="#15191d" stroke-width="0.8"/>
<circle cx="123.4" cy="315.5" r="1.6" fill="#525a63" stroke="#15191d" stroke-width="0.8"/>
<circle cx="121" cy="320.8" r="1.6" fill="#525a63" stroke="#15191d" stroke-width="0.8"/>
<circle cx="119" cy="328.3" r="1.6" fill="#525a63" stroke="#15191d" stroke-width="0.8"/>
<circle cx="123.4" cy="326.6" r="1.6" fill="#525a63" stroke="#15191d" stroke-width="0.8"/>
<circle cx="130.8" cy="302.4" r="1.85" fill="#d43d18"/>
<circle cx="133" cy="302.4" r="1.85" fill="#d43d18"/>
<circle cx="135" cy="302.4" r="1.85" fill="#d43d18"/>
<circle cx="132.5" cy="311.6" r="1.85" fill="#d43d18"/>
<circle cx="134.2" cy="312.6" r="1.85" fill="#d43d18"/>
<circle cx="132.2" cy="323.8" r="1.85" fill="#d43d18"/>
<circle cx="144.1" cy="269.9" r="1.85" fill="#0d8a3e"/>
<circle cx="144.1" cy="274.6" r="1.85" fill="#0d8a3e"/>
<circle cx="142.7" cy="287.5" r="1.85" fill="#0d8a3e"/>
<circle cx="146.2" cy="286.2" r="1.85" fill="#0d8a3e"/>
<circle cx="144.1" cy="295" r="1.85" fill="#0d8a3e"/>
<circle cx="144.1" cy="302" r="1.85" fill="#0d8a3e"/>
<polyline points="121.3,303.2 121.3,262.9 144.6,262.9 144.6,266.4" fill="none" stroke="#555" stroke-width="0.9"/>
<circle cx="127.32" cy="258.8" r="1.25" fill="#1a1a1a"/>
<circle cx="131.07" cy="258.8" r="1.25" fill="#1a1a1a"/>
<circle cx="134.82" cy="258.8" r="1.25" fill="#1a1a1a"/>
<circle cx="138.57" cy="258.8" r="1.25" fill="#1a1a1a"/>
<rect x="178.6" y="335.7" width="7" height="8.5" fill="#e5e4e8"/>
<rect x="190.3" y="309" width="7" height="35.2" fill="#e5e4e8"/>
<rect x="201.9" y="305.5" width="7" height="38.7" fill="#e5e4e8"/>
<rect x="213.5" y="293" width="7" height="51.2" fill="#e5e4e8"/>
<line x1="193.8" y1="305.5" x2="193.8" y2="316" stroke="#222" stroke-width="0.9"/>
<line x1="192.2" y1="305.5" x2="195.4" y2="305.5" stroke="#222" stroke-width="0.9"/>
<line x1="192.2" y1="316" x2="195.4" y2="316" stroke="#222" stroke-width="0.9"/>
<line x1="191.4" y1="310.5" x2="196.2" y2="310.5" stroke="#222" stroke-width="1"/>
<line x1="205.4" y1="302" x2="205.4" y2="309.5" stroke="#222" stroke-width="0.9"/>
<line x1="203.8" y1="302" x2="207" y2="302" stroke="#222" stroke-width="0.9"/>
<line x1="203.8" y1="309.5" x2="207" y2="309.5" stroke="#222" stroke-width="0.9"/>
<line x1="203" y1="306" x2="207.8" y2="306" stroke="#222" stroke-width="1"/>
<line x1="217" y1="289" x2="217" y2="300" stroke="#222" stroke-width="0.9"/>
<line x1="215.4" y1="289" x2="218.6" y2="289" stroke="#222" stroke-width="0.9"/>
<line x1="215.4" y1="300" x2="218.6" y2="300" stroke="#222" stroke-width="0.9"/>
<line x1="214.6" y1="294.5" x2="219.4" y2="294.5" stroke="#222" stroke-width="1"/>
<circle cx="184.6" cy="329.6" r="1.6" fill="#4a8ea8" stroke="#164b60" stroke-width="0.8"/>
<circle cx="181.1" cy="332.2" r="1.6" fill="#4a8ea8" stroke="#164b60" stroke-width="0.8"/>
<circle cx="184.3" cy="332.6" r="1.6" fill="#4a8ea8" stroke="#164b60" stroke-width="0.8"/>
<circle cx="182.9" cy="334.8" r="1.6" fill="#4a8ea8" stroke="#164b60" stroke-width="0.8"/>
<circle cx="182" cy="338.3" r="1.6" fill="#4a8ea8" stroke="#164b60" stroke-width="0.8"/>
<circle cx="192" cy="303.2" r="1.6" fill="#525a63" stroke="#15191d" stroke-width="0.8"/>
<circle cx="196" cy="302" r="1.6" fill="#525a63" stroke="#15191d" stroke-width="0.8"/>
<circle cx="192" cy="306.8" r="1.6" fill="#525a63" stroke="#15191d" stroke-width="0.8"/>
<circle cx="195.7" cy="307.3" r="1.6" fill="#525a63" stroke="#15191d" stroke-width="0.8"/>
<circle cx="192" cy="310.3" r="1.6" fill="#525a63" stroke="#15191d" stroke-width="0.8"/>
<circle cx="196" cy="316.4" r="1.6" fill="#525a63" stroke="#15191d" stroke-width="0.8"/>
<circle cx="191.7" cy="319.9" r="1.6" fill="#525a63" stroke="#15191d" stroke-width="0.8"/>
<circle cx="203.4" cy="298.9" r="1.85" fill="#d43d18"/>
<circle cx="205.2" cy="302.4" r="1.85" fill="#d43d18"/>
<circle cx="207.5" cy="305" r="1.85" fill="#d43d18"/>
<circle cx="205.7" cy="312" r="1.85" fill="#d43d18"/>
<circle cx="205.7" cy="316.8" r="1.85" fill="#d43d18"/>
<circle cx="215" cy="288.7" r="1.85" fill="#0d8a3e"/>
<circle cx="218.9" cy="287.5" r="1.85" fill="#0d8a3e"/>
<circle cx="216.2" cy="291" r="1.85" fill="#0d8a3e"/>
<circle cx="216.8" cy="298" r="1.85" fill="#0d8a3e"/>
<circle cx="217.1" cy="303.2" r="1.85" fill="#0d8a3e"/>
<polyline points="192.9,297.1 192.9,281.7 216.6,281.7 216.6,284.8" fill="none" stroke="#555" stroke-width="0.9"/>
<circle cx="201" cy="277.6" r="1.25" fill="#1a1a1a"/>
<circle cx="204.75" cy="277.6" r="1.25" fill="#1a1a1a"/>
<circle cx="208.5" cy="277.6" r="1.25" fill="#1a1a1a"/>
<rect x="250.6" y="337.5" width="7" height="6.7" fill="#e5e4e8"/>
<rect x="262.3" y="322.5" width="7" height="21.7" fill="#e5e4e8"/>
<rect x="273.9" y="323.4" width="7" height="20.8" fill="#e5e4e8"/>
<rect x="285.5" y="307.6" width="7" height="36.6" fill="#e5e4e8"/>
<line x1="289" y1="302" x2="289" y2="309" stroke="#222" stroke-width="0.9"/>
<line x1="287.4" y1="302" x2="290.6" y2="302" stroke="#222" stroke-width="0.9"/>
<line x1="287.4" y1="309" x2="290.6" y2="309" stroke="#222" stroke-width="0.9"/>
<line x1="286.6" y1="306" x2="291.4" y2="306" stroke="#222" stroke-width="1"/>
<circle cx="254" cy="330.8" r="1.6" fill="#4a8ea8" stroke="#164b60" stroke-width="0.8"/>
<circle cx="252.3" cy="335.7" r="1.6" fill="#4a8ea8" stroke="#164b60" stroke-width="0.8"/>
<circle cx="255.8" cy="335.7" r="1.6" fill="#4a8ea8" stroke="#164b60" stroke-width="0.8"/>
<circle cx="254" cy="333.6" r="1.6" fill="#4a8ea8" stroke="#164b60" stroke-width="0.8"/>
<circle cx="265.4" cy="311.1" r="1.6" fill="#525a63" stroke="#15191d" stroke-width="0.8"/>
<circle cx="263.7" cy="315.5" r="1.6" fill="#525a63" stroke="#15191d" stroke-width="0.8"/>
<circle cx="267.2" cy="316.4" r="1.6" fill="#525a63" stroke="#15191d" stroke-width="0.8"/>
<circle cx="264.5" cy="319.9" r="1.6" fill="#525a63" stroke="#15191d" stroke-width="0.8"/>
<circle cx="267.7" cy="319.6" r="1.6" fill="#525a63" stroke="#15191d" stroke-width="0.8"/>
<circle cx="265.4" cy="318.2" r="1.6" fill="#525a63" stroke="#15191d" stroke-width="0.8"/>
<circle cx="277.4" cy="311.1" r="1.85" fill="#d43d18"/>
<circle cx="275.6" cy="317.3" r="1.85" fill="#d43d18"/>
<circle cx="279.5" cy="316.8" r="1.85" fill="#d43d18"/>
<circle cx="275.6" cy="322.5" r="1.85" fill="#d43d18"/>
<circle cx="279.5" cy="321.3" r="1.85" fill="#d43d18"/>
<circle cx="276.8" cy="319.6" r="1.85" fill="#d43d18"/>
<circle cx="288.6" cy="293.2" r="1.85" fill="#0d8a3e"/>
<circle cx="288.6" cy="301" r="1.85" fill="#0d8a3e"/>
<circle cx="286.5" cy="303.2" r="1.85" fill="#0d8a3e"/>
<circle cx="290.5" cy="303.2" r="1.85" fill="#0d8a3e"/>
<circle cx="288.6" cy="313.8" r="1.85" fill="#0d8a3e"/>
<circle cx="287" cy="316.4" r="1.85" fill="#0d8a3e"/>
<circle cx="290" cy="314.6" r="1.85" fill="#0d8a3e"/>
<polyline points="265.4,307.3 265.4,286.2 288.6,286.2 288.6,289.2" fill="none" stroke="#555" stroke-width="0.9"/>
<circle cx="275.12" cy="282.1" r="1.25" fill="#1a1a1a"/>
<circle cx="278.88" cy="282.1" r="1.25" fill="#1a1a1a"/>
<rect x="322.5" y="334.8" width="7" height="9.4" fill="#e5e4e8"/>
<rect x="334.2" y="330.4" width="7" height="13.8" fill="#e5e4e8"/>
<rect x="345.8" y="332.2" width="7" height="12" fill="#e5e4e8"/>
<rect x="357.4" y="324.3" width="7" height="19.9" fill="#e5e4e8"/>
<line x1="349.3" y1="323.5" x2="349.3" y2="332.5" stroke="#222" stroke-width="0.9"/>
<line x1="347.7" y1="323.5" x2="350.9" y2="323.5" stroke="#222" stroke-width="0.9"/>
<line x1="347.7" y1="332.5" x2="350.9" y2="332.5" stroke="#222" stroke-width="0.9"/>
<line x1="346.9" y1="328" x2="351.7" y2="328" stroke="#222" stroke-width="1"/>
<line x1="360.9" y1="307" x2="360.9" y2="316" stroke="#222" stroke-width="0.9"/>
<line x1="359.3" y1="307" x2="362.5" y2="307" stroke="#222" stroke-width="0.9"/>
<line x1="359.3" y1="316" x2="362.5" y2="316" stroke="#222" stroke-width="0.9"/>
<line x1="358.5" y1="311.5" x2="363.3" y2="311.5" stroke="#222" stroke-width="1"/>
<circle cx="324.3" cy="330.8" r="1.6" fill="#4a8ea8" stroke="#164b60" stroke-width="0.8"/>
<circle cx="328.6" cy="330.8" r="1.6" fill="#4a8ea8" stroke="#164b60" stroke-width="0.8"/>
<circle cx="326.4" cy="333.1" r="1.6" fill="#4a8ea8" stroke="#164b60" stroke-width="0.8"/>
<circle cx="326.9" cy="336.1" r="1.6" fill="#4a8ea8" stroke="#164b60" stroke-width="0.8"/>
<circle cx="325.7" cy="340.1" r="1.6" fill="#4a8ea8" stroke="#164b60" stroke-width="0.8"/>
<circle cx="336.2" cy="320.8" r="1.6" fill="#525a63" stroke="#15191d" stroke-width="0.8"/>
<circle cx="339.7" cy="323.1" r="1.6" fill="#525a63" stroke="#15191d" stroke-width="0.8"/>
<circle cx="335.7" cy="325.2" r="1.6" fill="#525a63" stroke="#15191d" stroke-width="0.8"/>
<circle cx="338.6" cy="326.1" r="1.6" fill="#525a63" stroke="#15191d" stroke-width="0.8"/>
<circle cx="340.4" cy="328.3" r="1.6" fill="#525a63" stroke="#15191d" stroke-width="0.8"/>
<circle cx="336.2" cy="330.8" r="1.6" fill="#525a63" stroke="#15191d" stroke-width="0.8"/>
<circle cx="351.5" cy="319.6" r="1.85" fill="#d43d18"/>
<circle cx="347.6" cy="322" r="1.85" fill="#d43d18"/>
<circle cx="351.1" cy="324.3" r="1.85" fill="#d43d18"/>
<circle cx="349.7" cy="331.3" r="1.85" fill="#d43d18"/>
<circle cx="352" cy="335.4" r="1.85" fill="#d43d18"/>
<circle cx="347.6" cy="338.3" r="1.85" fill="#d43d18"/>
<circle cx="359.4" cy="302.7" r="1.85" fill="#0d8a3e"/>
<circle cx="362.9" cy="302" r="1.85" fill="#0d8a3e"/>
<circle cx="361.1" cy="309.4" r="1.85" fill="#0d8a3e"/>
<circle cx="359.7" cy="320.3" r="1.85" fill="#0d8a3e"/>
<circle cx="363.2" cy="319.6" r="1.85" fill="#0d8a3e"/>
<circle cx="361.1" cy="315.5" r="1.85" fill="#0d8a3e"/>
<polyline points="338.3,318.2 338.3,295.7 360.6,295.7 360.6,298.9" fill="none" stroke="#555" stroke-width="0.9"/>
<circle cx="347.58" cy="291.6" r="1.25" fill="#1a1a1a"/>
<circle cx="351.33" cy="291.6" r="1.25" fill="#1a1a1a"/>
<rect x="394.1" y="337" width="7" height="7.2" fill="#e5e4e8"/>
<rect x="405.8" y="330.5" width="7" height="13.7" fill="#e5e4e8"/>
<rect x="417.4" y="330.5" width="7" height="13.7" fill="#e5e4e8"/>
<rect x="429" y="324" width="7" height="20.2" fill="#e5e4e8"/>
<circle cx="399.6" cy="328.7" r="1.6" fill="#4a8ea8" stroke="#164b60" stroke-width="0.8"/>
<circle cx="397" cy="330.4" r="1.6" fill="#4a8ea8" stroke="#164b60" stroke-width="0.8"/>
<circle cx="400.5" cy="332.2" r="1.6" fill="#4a8ea8" stroke="#164b60" stroke-width="0.8"/>
<circle cx="398.4" cy="334.8" r="1.6" fill="#4a8ea8" stroke="#164b60" stroke-width="0.8"/>
<circle cx="396.1" cy="336.6" r="1.6" fill="#4a8ea8" stroke="#164b60" stroke-width="0.8"/>
<circle cx="398.4" cy="338.9" r="1.6" fill="#4a8ea8" stroke="#164b60" stroke-width="0.8"/>
<circle cx="408.9" cy="322.5" r="1.6" fill="#525a63" stroke="#15191d" stroke-width="0.8"/>
<circle cx="411.1" cy="323.8" r="1.6" fill="#525a63" stroke="#15191d" stroke-width="0.8"/>
<circle cx="408.1" cy="326.9" r="1.6" fill="#525a63" stroke="#15191d" stroke-width="0.8"/>
<circle cx="411.9" cy="327.8" r="1.6" fill="#525a63" stroke="#15191d" stroke-width="0.8"/>
<circle cx="409.6" cy="330.8" r="1.6" fill="#525a63" stroke="#15191d" stroke-width="0.8"/>
<circle cx="410.7" cy="335.7" r="1.6" fill="#525a63" stroke="#15191d" stroke-width="0.8"/>
<circle cx="420.2" cy="326.1" r="1.85" fill="#d43d18"/>
<circle cx="423" cy="326.9" r="1.85" fill="#d43d18"/>
<circle cx="420.7" cy="328.7" r="1.85" fill="#d43d18"/>
<circle cx="422.5" cy="329.6" r="1.85" fill="#d43d18"/>
<circle cx="419.8" cy="330.8" r="1.85" fill="#d43d18"/>
<circle cx="430.7" cy="316.4" r="1.85" fill="#0d8a3e"/>
<circle cx="435.3" cy="314.3" r="1.85" fill="#0d8a3e"/>
<circle cx="431.6" cy="320.8" r="1.85" fill="#0d8a3e"/>
<circle cx="434.7" cy="321.7" r="1.85" fill="#0d8a3e"/>
<circle cx="433.5" cy="324.3" r="1.85" fill="#0d8a3e"/>
<circle cx="432.5" cy="331.3" r="1.85" fill="#0d8a3e"/>
<polyline points="410.2,318.5 410.2,306.2 433.5,306.2 433.5,309.4" fill="none" stroke="#555" stroke-width="0.9"/>
<circle cx="421.85" cy="302.1" r="1.25" fill="#1a1a1a"/>
<rect x="467.2" y="336.5" width="7" height="7.7" fill="#e5e4e8"/>
<rect x="478.9" y="334" width="7" height="10.2" fill="#e5e4e8"/>
<rect x="490.5" y="336.5" width="7" height="7.7" fill="#e5e4e8"/>
<rect x="502.1" y="327" width="7" height="17.2" fill="#e5e4e8"/>
<circle cx="469.1" cy="329.6" r="1.6" fill="#4a8ea8" stroke="#164b60" stroke-width="0.8"/>
<circle cx="471.8" cy="331.3" r="1.6" fill="#4a8ea8" stroke="#164b60" stroke-width="0.8"/>
<circle cx="468.3" cy="332.5" r="1.6" fill="#4a8ea8" stroke="#164b60" stroke-width="0.8"/>
<circle cx="472.6" cy="337.5" r="1.6" fill="#4a8ea8" stroke="#164b60" stroke-width="0.8"/>
<circle cx="470.9" cy="336.1" r="1.6" fill="#4a8ea8" stroke="#164b60" stroke-width="0.8"/>
<circle cx="469.1" cy="341" r="1.6" fill="#4a8ea8" stroke="#164b60" stroke-width="0.8"/>
<circle cx="482" cy="326.6" r="1.6" fill="#525a63" stroke="#15191d" stroke-width="0.8"/>
<circle cx="480.5" cy="332.2" r="1.6" fill="#525a63" stroke="#15191d" stroke-width="0.8"/>
<circle cx="484.4" cy="334" r="1.6" fill="#525a63" stroke="#15191d" stroke-width="0.8"/>
<circle cx="479.7" cy="336.6" r="1.6" fill="#525a63" stroke="#15191d" stroke-width="0.8"/>
<circle cx="482.3" cy="330.8" r="1.6" fill="#525a63" stroke="#15191d" stroke-width="0.8"/>
<circle cx="495.5" cy="327.8" r="1.85" fill="#d43d18"/>
<circle cx="492.8" cy="330.8" r="1.85" fill="#d43d18"/>
<circle cx="491.1" cy="334.3" r="1.85" fill="#d43d18"/>
<circle cx="494.6" cy="334.8" r="1.85" fill="#d43d18"/>
<circle cx="493.2" cy="337.1" r="1.85" fill="#d43d18"/>
<circle cx="495.5" cy="337.5" r="1.85" fill="#d43d18"/>
<circle cx="505.1" cy="320.8" r="1.85" fill="#0d8a3e"/>
<circle cx="503.4" cy="325.2" r="1.85" fill="#0d8a3e"/>
<circle cx="506.9" cy="324.8" r="1.85" fill="#0d8a3e"/>
<circle cx="503.7" cy="327.8" r="1.85" fill="#0d8a3e"/>
<circle cx="507.2" cy="327.8" r="1.85" fill="#0d8a3e"/>
<circle cx="505.5" cy="327.3" r="1.85" fill="#0d8a3e"/>
<polyline points="481.9,324.3 481.9,312.9 505.1,312.9 505.1,316.4" fill="none" stroke="#555" stroke-width="0.9"/>
<circle cx="493.5" cy="308.8" r="1.25" fill="#1a1a1a"/>
<rect x="36.8" y="467.5" width="7" height="8.9" fill="#e5e4e8"/>
<rect x="48.5" y="467" width="7" height="9.4" fill="#e5e4e8"/>
<rect x="60.1" y="466.5" width="7" height="9.9" fill="#e5e4e8"/>
<rect x="71.7" y="460" width="7" height="16.4" fill="#e5e4e8"/>
<circle cx="38.3" cy="460.2" r="1.6" fill="#4a8ea8" stroke="#164b60" stroke-width="0.8"/>
<circle cx="42.5" cy="461" r="1.6" fill="#4a8ea8" stroke="#164b60" stroke-width="0.8"/>
<circle cx="40.3" cy="464" r="1.6" fill="#4a8ea8" stroke="#164b60" stroke-width="0.8"/>
<circle cx="38.3" cy="470.4" r="1.6" fill="#4a8ea8" stroke="#164b60" stroke-width="0.8"/>
<circle cx="42.5" cy="470.4" r="1.6" fill="#4a8ea8" stroke="#164b60" stroke-width="0.8"/>
<circle cx="40.3" cy="468.3" r="1.6" fill="#4a8ea8" stroke="#164b60" stroke-width="0.8"/>
<circle cx="52.1" cy="460.2" r="1.6" fill="#525a63" stroke="#15191d" stroke-width="0.8"/>
<circle cx="49.5" cy="464.8" r="1.6" fill="#525a63" stroke="#15191d" stroke-width="0.8"/>
<circle cx="53.6" cy="467.1" r="1.6" fill="#525a63" stroke="#15191d" stroke-width="0.8"/>
<circle cx="51" cy="467.1" r="1.6" fill="#525a63" stroke="#15191d" stroke-width="0.8"/>
<circle cx="49.5" cy="469.8" r="1.6" fill="#525a63" stroke="#15191d" stroke-width="0.8"/>
<circle cx="63.2" cy="456.4" r="1.85" fill="#d43d18"/>
<circle cx="61.2" cy="464.8" r="1.85" fill="#d43d18"/>
<circle cx="65" cy="465.9" r="1.85" fill="#d43d18"/>
<circle cx="63.2" cy="468.3" r="1.85" fill="#d43d18"/>
<circle cx="63.2" cy="472" r="1.85" fill="#d43d18"/>
<circle cx="73" cy="451.8" r="1.85" fill="#0d8a3e"/>
<circle cx="76.9" cy="449.1" r="1.85" fill="#0d8a3e"/>
<circle cx="76.4" cy="453.4" r="1.85" fill="#0d8a3e"/>
<circle cx="73" cy="456.7" r="1.85" fill="#0d8a3e"/>
<circle cx="73" cy="462.8" r="1.85" fill="#0d8a3e"/>
<circle cx="76.9" cy="462.8" r="1.85" fill="#0d8a3e"/>
<polyline points="51.3,455.6 51.3,441.2 74.5,441.2 74.5,444.5" fill="none" stroke="#555" stroke-width="0.9"/>
<circle cx="61.02" cy="437.1" r="1.25" fill="#1a1a1a"/>
<circle cx="64.78" cy="437.1" r="1.25" fill="#1a1a1a"/>
<rect x="106" y="472.9" width="7" height="3.5" fill="#e5e4e8"/>
<rect x="117.7" y="462.5" width="7" height="13.9" fill="#e5e4e8"/>
<rect x="129.3" y="459.5" width="7" height="16.9" fill="#e5e4e8"/>
<rect x="140.9" y="453.4" width="7" height="23" fill="#e5e4e8"/>
<circle cx="111.9" cy="461.3" r="1.6" fill="#4a8ea8" stroke="#164b60" stroke-width="0.8"/>
<circle cx="107.8" cy="464.8" r="1.6" fill="#4a8ea8" stroke="#164b60" stroke-width="0.8"/>
<circle cx="111.5" cy="466.3" r="1.6" fill="#4a8ea8" stroke="#164b60" stroke-width="0.8"/>
<circle cx="110.4" cy="470.4" r="1.6" fill="#4a8ea8" stroke="#164b60" stroke-width="0.8"/>
<circle cx="108.9" cy="473.5" r="1.6" fill="#4a8ea8" stroke="#164b60" stroke-width="0.8"/>
<circle cx="111.5" cy="468.6" r="1.6" fill="#4a8ea8" stroke="#164b60" stroke-width="0.8"/>
<circle cx="123.3" cy="447.3" r="1.6" fill="#525a63" stroke="#15191d" stroke-width="0.8"/>
<circle cx="119.5" cy="449.5" r="1.6" fill="#525a63" stroke="#15191d" stroke-width="0.8"/>
<circle cx="123" cy="451.8" r="1.6" fill="#525a63" stroke="#15191d" stroke-width="0.8"/>
<circle cx="121" cy="456.1" r="1.6" fill="#525a63" stroke="#15191d" stroke-width="0.8"/>
<circle cx="121" cy="460.7" r="1.6" fill="#525a63" stroke="#15191d" stroke-width="0.8"/>
<circle cx="134.8" cy="444.5" r="1.85" fill="#d43d18"/>
<circle cx="131" cy="449.1" r="1.85" fill="#d43d18"/>
<circle cx="135.2" cy="448" r="1.85" fill="#d43d18"/>
<circle cx="133.2" cy="452.6" r="1.85" fill="#d43d18"/>
<circle cx="133.2" cy="457.6" r="1.85" fill="#d43d18"/>
<circle cx="142.4" cy="441.5" r="1.85" fill="#0d8a3e"/>
<circle cx="146.2" cy="440.4" r="1.85" fill="#0d8a3e"/>
<circle cx="142.4" cy="445.4" r="1.85" fill="#0d8a3e"/>
<circle cx="145.4" cy="445" r="1.85" fill="#0d8a3e"/>
<circle cx="143.9" cy="450.3" r="1.85" fill="#0d8a3e"/>
<circle cx="144.4" cy="461.7" r="1.85" fill="#0d8a3e"/>
<rect x="178.6" y="471.6" width="7" height="4.8" fill="#e5e4e8"/>
<rect x="190.3" y="466" width="7" height="10.4" fill="#e5e4e8"/>
<rect x="201.9" y="467.5" width="7" height="8.9" fill="#e5e4e8"/>
<rect x="213.5" y="462" width="7" height="14.4" fill="#e5e4e8"/>
<line x1="217" y1="455" x2="217" y2="460" stroke="#222" stroke-width="0.9"/>
<line x1="215.4" y1="455" x2="218.6" y2="455" stroke="#222" stroke-width="0.9"/>
<line x1="215.4" y1="460" x2="218.6" y2="460" stroke="#222" stroke-width="0.9"/>
<line x1="214.6" y1="457" x2="219.4" y2="457" stroke="#222" stroke-width="1"/>
<circle cx="181.9" cy="461.3" r="1.6" fill="#4a8ea8" stroke="#164b60" stroke-width="0.8"/>
<circle cx="180.3" cy="464.3" r="1.6" fill="#4a8ea8" stroke="#164b60" stroke-width="0.8"/>
<circle cx="183.8" cy="466.8" r="1.6" fill="#4a8ea8" stroke="#164b60" stroke-width="0.8"/>
<circle cx="181.1" cy="465.9" r="1.6" fill="#4a8ea8" stroke="#164b60" stroke-width="0.8"/>
<circle cx="182.3" cy="473.5" r="1.6" fill="#4a8ea8" stroke="#164b60" stroke-width="0.8"/>
<circle cx="193.6" cy="450" r="1.6" fill="#525a63" stroke="#15191d" stroke-width="0.8"/>
<circle cx="193.6" cy="456.4" r="1.6" fill="#525a63" stroke="#15191d" stroke-width="0.8"/>
<circle cx="191.5" cy="463.3" r="1.6" fill="#525a63" stroke="#15191d" stroke-width="0.8"/>
<circle cx="195.6" cy="465.9" r="1.6" fill="#525a63" stroke="#15191d" stroke-width="0.8"/>
<circle cx="191.5" cy="467.1" r="1.6" fill="#525a63" stroke="#15191d" stroke-width="0.8"/>
<circle cx="193.6" cy="463.3" r="1.6" fill="#525a63" stroke="#15191d" stroke-width="0.8"/>
<circle cx="205.2" cy="458.7" r="1.85" fill="#d43d18"/>
<circle cx="203.7" cy="463.3" r="1.85" fill="#d43d18"/>
<circle cx="207" cy="464.8" r="1.85" fill="#d43d18"/>
<circle cx="204.3" cy="467.1" r="1.85" fill="#d43d18"/>
<circle cx="205.5" cy="464" r="1.85" fill="#d43d18"/>
<circle cx="215" cy="451.5" r="1.85" fill="#0d8a3e"/>
<circle cx="218.9" cy="450" r="1.85" fill="#0d8a3e"/>
<circle cx="216.9" cy="457.2" r="1.85" fill="#0d8a3e"/>
<circle cx="215" cy="460.2" r="1.85" fill="#0d8a3e"/>
<circle cx="219.2" cy="460.7" r="1.85" fill="#0d8a3e"/>
<circle cx="216.9" cy="470.4" r="1.85" fill="#0d8a3e"/>
<rect x="250.6" y="467.1" width="7" height="9.3" fill="#e5e4e8"/>
<rect x="262.3" y="466" width="7" height="10.4" fill="#e5e4e8"/>
<rect x="273.9" y="463.3" width="7" height="13.1" fill="#e5e4e8"/>
<rect x="285.5" y="457.9" width="7" height="18.5" fill="#e5e4e8"/>
<circle cx="252.3" cy="458.7" r="1.6" fill="#4a8ea8" stroke="#164b60" stroke-width="0.8"/>
<circle cx="256.5" cy="461.7" r="1.6" fill="#4a8ea8" stroke="#164b60" stroke-width="0.8"/>
<circle cx="253.9" cy="464" r="1.6" fill="#4a8ea8" stroke="#164b60" stroke-width="0.8"/>
<circle cx="253.9" cy="467.1" r="1.6" fill="#4a8ea8" stroke="#164b60" stroke-width="0.8"/>
<circle cx="253.9" cy="471.6" r="1.6" fill="#4a8ea8" stroke="#164b60" stroke-width="0.8"/>
<circle cx="255.4" cy="471.6" r="1.6" fill="#4a8ea8" stroke="#164b60" stroke-width="0.8"/>
<circle cx="265.6" cy="449.1" r="1.6" fill="#525a63" stroke="#15191d" stroke-width="0.8"/>
<circle cx="265.6" cy="456.4" r="1.6" fill="#525a63" stroke="#15191d" stroke-width="0.8"/>
<circle cx="263.5" cy="461.7" r="1.6" fill="#525a63" stroke="#15191d" stroke-width="0.8"/>
<circle cx="268" cy="462.8" r="1.6" fill="#525a63" stroke="#15191d" stroke-width="0.8"/>
<circle cx="263.8" cy="466.3" r="1.6" fill="#525a63" stroke="#15191d" stroke-width="0.8"/>
<circle cx="266" cy="461.7" r="1.6" fill="#525a63" stroke="#15191d" stroke-width="0.8"/>
<circle cx="275.2" cy="453" r="1.85" fill="#d43d18"/>
<circle cx="279.8" cy="451.8" r="1.85" fill="#d43d18"/>
<circle cx="277.5" cy="456.4" r="1.85" fill="#d43d18"/>
<circle cx="276" cy="461.3" r="1.85" fill="#d43d18"/>
<circle cx="279" cy="460.7" r="1.85" fill="#d43d18"/>
<circle cx="275.2" cy="462.5" r="1.85" fill="#d43d18"/>
<circle cx="288.5" cy="441.5" r="1.85" fill="#0d8a3e"/>
<circle cx="287" cy="445.7" r="1.85" fill="#0d8a3e"/>
<circle cx="290.9" cy="448.8" r="1.85" fill="#0d8a3e"/>
<circle cx="287.4" cy="450" r="1.85" fill="#0d8a3e"/>
<circle cx="290.9" cy="453.4" r="1.85" fill="#0d8a3e"/>
<circle cx="288.5" cy="457.6" r="1.85" fill="#0d8a3e"/>
<polyline points="265.3,443 265.3,433.2 288.5,433.2 288.5,436.6" fill="none" stroke="#555" stroke-width="0.9"/>
<circle cx="276.9" cy="429.1" r="1.25" fill="#1a1a1a"/>
<rect x="322.5" y="467.1" width="7" height="9.3" fill="#e5e4e8"/>
<rect x="334.2" y="466" width="7" height="10.4" fill="#e5e4e8"/>
<rect x="345.8" y="464" width="7" height="12.4" fill="#e5e4e8"/>
<rect x="357.4" y="457.9" width="7" height="18.5" fill="#e5e4e8"/>
<circle cx="324.3" cy="458.7" r="1.6" fill="#4a8ea8" stroke="#164b60" stroke-width="0.8"/>
<circle cx="328.5" cy="461.7" r="1.6" fill="#4a8ea8" stroke="#164b60" stroke-width="0.8"/>
<circle cx="325.9" cy="464" r="1.6" fill="#4a8ea8" stroke="#164b60" stroke-width="0.8"/>
<circle cx="326.3" cy="467.1" r="1.6" fill="#4a8ea8" stroke="#164b60" stroke-width="0.8"/>
<circle cx="325.9" cy="471.6" r="1.6" fill="#4a8ea8" stroke="#164b60" stroke-width="0.8"/>
<circle cx="327.4" cy="470.9" r="1.6" fill="#4a8ea8" stroke="#164b60" stroke-width="0.8"/>
<circle cx="337.6" cy="448.8" r="1.6" fill="#525a63" stroke="#15191d" stroke-width="0.8"/>
<circle cx="337.6" cy="456.1" r="1.6" fill="#525a63" stroke="#15191d" stroke-width="0.8"/>
<circle cx="335.5" cy="461.7" r="1.6" fill="#525a63" stroke="#15191d" stroke-width="0.8"/>
<circle cx="340" cy="462.8" r="1.6" fill="#525a63" stroke="#15191d" stroke-width="0.8"/>
<circle cx="335.8" cy="465.9" r="1.6" fill="#525a63" stroke="#15191d" stroke-width="0.8"/>
<circle cx="338" cy="462.5" r="1.6" fill="#525a63" stroke="#15191d" stroke-width="0.8"/>
<circle cx="349.5" cy="451.8" r="1.85" fill="#d43d18"/>
<circle cx="347.7" cy="460.7" r="1.85" fill="#d43d18"/>
<circle cx="351.8" cy="461.7" r="1.85" fill="#d43d18"/>
<circle cx="349.5" cy="464" r="1.85" fill="#d43d18"/>
<circle cx="349.5" cy="470.4" r="1.85" fill="#d43d18"/>
<circle cx="347.2" cy="461" r="1.85" fill="#d43d18"/>
<circle cx="360.9" cy="441.5" r="1.85" fill="#0d8a3e"/>
<circle cx="359" cy="445.7" r="1.85" fill="#0d8a3e"/>
<circle cx="362.9" cy="448.5" r="1.85" fill="#0d8a3e"/>
<circle cx="359.4" cy="450" r="1.85" fill="#0d8a3e"/>
<circle cx="363.2" cy="453.4" r="1.85" fill="#0d8a3e"/>
<circle cx="360.5" cy="457.6" r="1.85" fill="#0d8a3e"/>
<polyline points="338.1,442.4 338.1,433.2 360.9,433.2 360.9,436.3" fill="none" stroke="#555" stroke-width="0.9"/>
<circle cx="349.5" cy="429.1" r="1.25" fill="#1a1a1a"/>
<rect x="394.1" y="468.5" width="7" height="7.9" fill="#e5e4e8"/>
<rect x="405.8" y="466.5" width="7" height="9.9" fill="#e5e4e8"/>
<rect x="417.4" y="466" width="7" height="10.4" fill="#e5e4e8"/>
<rect x="429" y="458" width="7" height="18.4" fill="#e5e4e8"/>
<line x1="432.5" y1="450.5" x2="432.5" y2="457.5" stroke="#222" stroke-width="0.9"/>
<line x1="430.9" y1="450.5" x2="434.1" y2="450.5" stroke="#222" stroke-width="0.9"/>
<line x1="430.9" y1="457.5" x2="434.1" y2="457.5" stroke="#222" stroke-width="0.9"/>
<line x1="430.1" y1="454" x2="434.9" y2="454" stroke="#222" stroke-width="1"/>
<circle cx="396.9" cy="462.5" r="1.6" fill="#4a8ea8" stroke="#164b60" stroke-width="0.8"/>
<circle cx="400.7" cy="461.3" r="1.6" fill="#4a8ea8" stroke="#164b60" stroke-width="0.8"/>
<circle cx="396.9" cy="467.1" r="1.6" fill="#4a8ea8" stroke="#164b60" stroke-width="0.8"/>
<circle cx="400.4" cy="466.3" r="1.6" fill="#4a8ea8" stroke="#164b60" stroke-width="0.8"/>
<circle cx="397.6" cy="470.4" r="1.6" fill="#4a8ea8" stroke="#164b60" stroke-width="0.8"/>
<circle cx="401" cy="470.4" r="1.6" fill="#4a8ea8" stroke="#164b60" stroke-width="0.8"/>
<circle cx="396.4" cy="473.5" r="1.6" fill="#4a8ea8" stroke="#164b60" stroke-width="0.8"/>
<circle cx="408.6" cy="462.2" r="1.6" fill="#525a63" stroke="#15191d" stroke-width="0.8"/>
<circle cx="412.1" cy="462.5" r="1.6" fill="#525a63" stroke="#15191d" stroke-width="0.8"/>
<circle cx="409.8" cy="465.5" r="1.6" fill="#525a63" stroke="#15191d" stroke-width="0.8"/>
<circle cx="408.6" cy="468.6" r="1.6" fill="#525a63" stroke="#15191d" stroke-width="0.8"/>
<circle cx="411.3" cy="468.9" r="1.6" fill="#525a63" stroke="#15191d" stroke-width="0.8"/>
<circle cx="421.7" cy="457.2" r="1.85" fill="#d43d18"/>
<circle cx="420.2" cy="463.7" r="1.85" fill="#d43d18"/>
<circle cx="423.8" cy="463.7" r="1.85" fill="#d43d18"/>
<circle cx="422" cy="465.9" r="1.85" fill="#d43d18"/>
<circle cx="419.7" cy="468.9" r="1.85" fill="#d43d18"/>
<circle cx="423.8" cy="467.8" r="1.85" fill="#d43d18"/>
<circle cx="430.9" cy="448.8" r="1.85" fill="#0d8a3e"/>
<circle cx="435" cy="448.8" r="1.85" fill="#0d8a3e"/>
<circle cx="430.9" cy="457.2" r="1.85" fill="#0d8a3e"/>
<circle cx="435" cy="457.9" r="1.85" fill="#0d8a3e"/>
<circle cx="433.1" cy="455.2" r="1.85" fill="#0d8a3e"/>
<circle cx="433.4" cy="470.1" r="1.85" fill="#0d8a3e"/>
<polyline points="410.3,456.1 410.3,441.5 433.4,441.5 433.4,445.4" fill="none" stroke="#555" stroke-width="0.9"/>
<circle cx="421.85" cy="437.4" r="1.25" fill="#1a1a1a"/>
<rect x="467.2" y="468" width="7" height="8.4" fill="#e5e4e8"/>
<rect x="478.9" y="466" width="7" height="10.4" fill="#e5e4e8"/>
<rect x="490.5" y="467" width="7" height="9.4" fill="#e5e4e8"/>
<rect x="502.1" y="459" width="7" height="17.4" fill="#e5e4e8"/>
<circle cx="470.9" cy="461.3" r="1.6" fill="#4a8ea8" stroke="#164b60" stroke-width="0.8"/>
<circle cx="469.1" cy="465.9" r="1.6" fill="#4a8ea8" stroke="#164b60" stroke-width="0.8"/>
<circle cx="472.9" cy="465.9" r="1.6" fill="#4a8ea8" stroke="#164b60" stroke-width="0.8"/>
<circle cx="470.9" cy="467.8" r="1.6" fill="#4a8ea8" stroke="#164b60" stroke-width="0.8"/>
<circle cx="469.9" cy="470.4" r="1.6" fill="#4a8ea8" stroke="#164b60" stroke-width="0.8"/>
<circle cx="471.4" cy="472" r="1.6" fill="#4a8ea8" stroke="#164b60" stroke-width="0.8"/>
<circle cx="484.3" cy="459.8" r="1.6" fill="#525a63" stroke="#15191d" stroke-width="0.8"/>
<circle cx="482.1" cy="461.7" r="1.6" fill="#525a63" stroke="#15191d" stroke-width="0.8"/>
<circle cx="480.5" cy="464" r="1.6" fill="#525a63" stroke="#15191d" stroke-width="0.8"/>
<circle cx="484.6" cy="464" r="1.6" fill="#525a63" stroke="#15191d" stroke-width="0.8"/>
<circle cx="480.1" cy="467.8" r="1.6" fill="#525a63" stroke="#15191d" stroke-width="0.8"/>
<circle cx="482.5" cy="465.9" r="1.6" fill="#525a63" stroke="#15191d" stroke-width="0.8"/>
<circle cx="494.7" cy="460.7" r="1.85" fill="#d43d18"/>
<circle cx="493.2" cy="463.3" r="1.85" fill="#d43d18"/>
<circle cx="491.7" cy="466.3" r="1.85" fill="#d43d18"/>
<circle cx="495.3" cy="467.1" r="1.85" fill="#d43d18"/>
<circle cx="493.5" cy="469.4" r="1.85" fill="#d43d18"/>
<circle cx="491.7" cy="470.4" r="1.85" fill="#d43d18"/>
<circle cx="503.9" cy="451.8" r="1.85" fill="#0d8a3e"/>
<circle cx="506.4" cy="452.6" r="1.85" fill="#0d8a3e"/>
<circle cx="503.9" cy="455.6" r="1.85" fill="#0d8a3e"/>
<circle cx="507.2" cy="456.7" r="1.85" fill="#0d8a3e"/>
<circle cx="505.7" cy="458.7" r="1.85" fill="#0d8a3e"/>
<circle cx="505.4" cy="462.8" r="1.85" fill="#0d8a3e"/>
<polyline points="482.1,458.7 482.1,444.2 504.9,444.2 504.9,446.5" fill="none" stroke="#555" stroke-width="0.9"/>
<circle cx="493.5" cy="440.1" r="1.25" fill="#1a1a1a"/>
<line x1="38.5" y1="360.3" x2="253.5" y2="360.3" stroke="#444" stroke-width="1.1"/>
<line x1="297.7" y1="360.3" x2="495.8" y2="360.3" stroke="#444" stroke-width="1.1"/>
<text x="265.4" y="363.2" font-size="8.6" text-anchor="start" font-weight="normal" font-style="normal" fill="#2c2c2c" stroke="#2c2c2c" stroke-width="0.25" textLength="20.8" lengthAdjust="spacingAndGlyphs">Ileum</text>
<line x1="38.7" y1="493.6" x2="253.4" y2="493.6" stroke="#444" stroke-width="1.1"/>
<line x1="297.5" y1="493.6" x2="495.8" y2="493.6" stroke="#444" stroke-width="1.1"/>
<text x="264.3" y="496.4" font-size="8.6" text-anchor="start" font-weight="normal" font-style="normal" fill="#2c2c2c" stroke="#2c2c2c" stroke-width="0.25" textLength="22.8" lengthAdjust="spacingAndGlyphs">Colon</text>
<circle cx="177.4" cy="509.4" r="3.1" fill="#2aa2dc"/>
<circle cx="211.8" cy="509.4" r="3.1" fill="#3a4556"/>
<circle cx="248.8" cy="509.4" r="3.1" fill="#e8441c"/>
<circle cx="309.6" cy="509.4" r="3.1" fill="#12a044"/>
<text x="184.2" y="512.4" font-size="8.6" fill="#2c2c2c">H<tspan font-size="6" dy="1.6">2</tspan><tspan dy="-1.6">O</tspan></text>
<text x="217.9" y="512.4" font-size="8.6" text-anchor="start" font-weight="normal" font-style="normal" fill="#2c2c2c" stroke="#2c2c2c" stroke-width="0.25" textLength="20.8" lengthAdjust="spacingAndGlyphs">None</text>
<text x="255.5" y="512.4" font-size="8.6" text-anchor="start" font-weight="normal" font-style="normal" fill="#2c2c2c" stroke="#2c2c2c" stroke-width="0.25" textLength="43.2" lengthAdjust="spacingAndGlyphs">FMT &quot;7+3&quot;</text>
<text x="315.8" y="512.4" font-size="8.6" text-anchor="start" font-weight="normal" font-style="normal" fill="#2c2c2c" stroke="#2c2c2c" stroke-width="0.25" textLength="52.2" lengthAdjust="spacingAndGlyphs">FMT CPX-351</text>
</svg></body></html>
